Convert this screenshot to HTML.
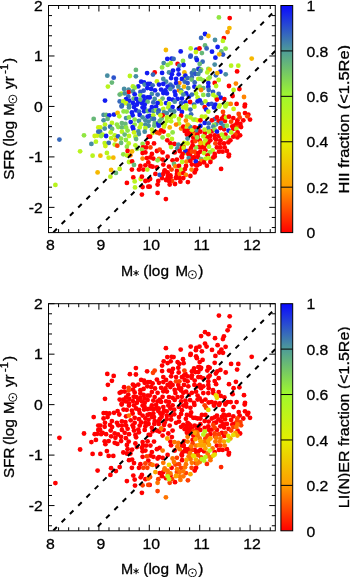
<!DOCTYPE html>
<html><head><meta charset="utf-8"><style>html,body{margin:0;padding:0;background:#fff;width:350px;height:577px;overflow:hidden}svg{display:block} svg{will-change:transform}</style></head>
<body><svg width="350" height="577" viewBox="0 0 350 577">
<rect width="350" height="577" fill="#fff"/>
<clipPath id="clip0"><rect x="48.5" y="5.5" width="226.8" height="227.1"/></clipPath>
<g clip-path="url(#clip0)">
<circle cx="124.1" cy="89.0" r="2.4" fill="#478da2"/>
<circle cx="143.6" cy="90.7" r="2.4" fill="#2c53cc"/>
<circle cx="196.0" cy="93.5" r="2.4" fill="#b8f41d"/>
<circle cx="129.3" cy="100.7" r="2.4" fill="#131cf2"/>
<circle cx="161.0" cy="103.7" r="2.4" fill="#ccf210"/>
<circle cx="178.8" cy="108.7" r="2.4" fill="#131cf2"/>
<circle cx="186.4" cy="108.4" r="2.4" fill="#b8f41d"/>
<circle cx="126.7" cy="111.6" r="2.4" fill="#90e642"/>
<circle cx="144.1" cy="111.3" r="2.4" fill="#131cf2"/>
<circle cx="174.2" cy="111.5" r="2.4" fill="#478da2"/>
<circle cx="166.8" cy="113.1" r="2.4" fill="#478da2"/>
<circle cx="174.3" cy="116.1" r="2.4" fill="#b8f41d"/>
<circle cx="161.6" cy="118.6" r="2.4" fill="#67b878"/>
<circle cx="148.5" cy="121.6" r="2.4" fill="#478da2"/>
<circle cx="166.7" cy="121.0" r="2.4" fill="#b8f41d"/>
<circle cx="171.1" cy="121.3" r="2.4" fill="#b8f41d"/>
<circle cx="148.6" cy="125.8" r="2.4" fill="#478da2"/>
<circle cx="154.3" cy="125.7" r="2.4" fill="#67b878"/>
<circle cx="158.7" cy="125.7" r="2.4" fill="#131cf2"/>
<circle cx="163.6" cy="131.6" r="2.4" fill="#ff0000"/>
<circle cx="138.9" cy="134.1" r="2.4" fill="#478da2"/>
<circle cx="159.3" cy="133.3" r="2.4" fill="#ff3e00"/>
<circle cx="218.6" cy="121.1" r="2.4" fill="#ff0000"/>
<circle cx="225.0" cy="121.1" r="2.4" fill="#ff0000"/>
<circle cx="232.3" cy="126.3" r="2.4" fill="#ff0000"/>
<circle cx="234.9" cy="125.4" r="2.4" fill="#ff0000"/>
<circle cx="237.4" cy="126.3" r="2.4" fill="#ff3e00"/>
<circle cx="224.1" cy="129.3" r="2.4" fill="#ff0000"/>
<circle cx="211.7" cy="131.4" r="2.4" fill="#ff0000"/>
<circle cx="215.1" cy="138.3" r="2.4" fill="#ff0000"/>
<circle cx="237.4" cy="137.4" r="2.4" fill="#ff0000"/>
<circle cx="237.4" cy="120.3" r="2.4" fill="#ff0000"/>
<circle cx="223.7" cy="116.4" r="2.4" fill="#ff0000"/>
<circle cx="224.6" cy="137.4" r="2.4" fill="#ff0000"/>
<circle cx="190.3" cy="130.6" r="2.4" fill="#ff0000"/>
<circle cx="193.7" cy="132.7" r="2.4" fill="#ff0000"/>
<circle cx="196.3" cy="134.0" r="2.4" fill="#ff3e00"/>
<circle cx="204.9" cy="133.1" r="2.4" fill="#ff0000"/>
<circle cx="193.3" cy="137.4" r="2.4" fill="#ff0000"/>
<circle cx="207.4" cy="137.4" r="2.4" fill="#ff0000"/>
<circle cx="208.3" cy="142.6" r="2.4" fill="#ff0000"/>
<circle cx="185.1" cy="152.9" r="2.4" fill="#b8f41d"/>
<circle cx="196.3" cy="155.0" r="2.4" fill="#ff3e00"/>
<circle cx="181.7" cy="156.3" r="2.4" fill="#ff0000"/>
<circle cx="190.0" cy="155.0" r="2.4" fill="#ff0000"/>
<circle cx="194.0" cy="158.0" r="2.4" fill="#ff0000"/>
<circle cx="198.0" cy="157.0" r="2.4" fill="#ff0000"/>
<circle cx="190.0" cy="160.0" r="2.4" fill="#ff0000"/>
<circle cx="196.0" cy="165.0" r="2.4" fill="#ff0000"/>
<circle cx="200.0" cy="163.0" r="2.4" fill="#ff0000"/>
<circle cx="186.0" cy="166.0" r="2.4" fill="#ff0000"/>
<circle cx="183.5" cy="147.0" r="2.4" fill="#ff0000"/>
<circle cx="188.5" cy="151.0" r="2.4" fill="#ff0000"/>
<circle cx="199.0" cy="147.0" r="2.4" fill="#ff0000"/>
<circle cx="204.0" cy="147.0" r="2.4" fill="#ff0000"/>
<circle cx="164.5" cy="171.5" r="2.4" fill="#ff0000"/>
<circle cx="168.0" cy="176.0" r="2.4" fill="#ff0000"/>
<circle cx="170.5" cy="177.5" r="2.4" fill="#ff0000"/>
<circle cx="166.0" cy="180.0" r="2.4" fill="#ff0000"/>
<circle cx="176.0" cy="178.0" r="2.4" fill="#ff0000"/>
<circle cx="177.0" cy="171.0" r="2.4" fill="#ff0000"/>
<circle cx="175.0" cy="184.0" r="2.4" fill="#ff0000"/>
<circle cx="162.0" cy="178.0" r="2.4" fill="#ff0000"/>
<circle cx="165.9" cy="50.0" r="2.4" fill="#f6b800"/>
<circle cx="180.7" cy="51.4" r="2.4" fill="#131cf2"/>
<circle cx="190.7" cy="48.4" r="2.4" fill="#b8f41d"/>
<circle cx="196.4" cy="49.6" r="2.4" fill="#131cf2"/>
<circle cx="199.5" cy="48.5" r="2.4" fill="#ff0000"/>
<circle cx="195.9" cy="52.0" r="2.4" fill="#ccf210"/>
<circle cx="190.7" cy="55.7" r="2.4" fill="#2c53cc"/>
<circle cx="218.9" cy="17.4" r="2.4" fill="#90e642"/>
<circle cx="229.7" cy="18.1" r="2.4" fill="#ff0000"/>
<circle cx="229.4" cy="28.1" r="2.4" fill="#f6b800"/>
<circle cx="227.6" cy="32.1" r="2.4" fill="#ff8400"/>
<circle cx="205.0" cy="34.0" r="2.4" fill="#131cf2"/>
<circle cx="208.4" cy="36.0" r="2.4" fill="#f6b800"/>
<circle cx="201.1" cy="37.9" r="2.4" fill="#3669bc"/>
<circle cx="215.0" cy="40.0" r="2.4" fill="#478da2"/>
<circle cx="223.9" cy="38.1" r="2.4" fill="#ff0000"/>
<circle cx="222.9" cy="40.9" r="2.4" fill="#b8f41d"/>
<circle cx="205.0" cy="45.4" r="2.4" fill="#67b878"/>
<circle cx="206.6" cy="48.4" r="2.4" fill="#3669bc"/>
<circle cx="217.6" cy="47.0" r="2.4" fill="#131cf2"/>
<circle cx="225.6" cy="48.6" r="2.4" fill="#90e642"/>
<circle cx="201.9" cy="53.1" r="2.4" fill="#67b878"/>
<circle cx="212.0" cy="51.7" r="2.4" fill="#131cf2"/>
<circle cx="221.4" cy="51.4" r="2.4" fill="#67b878"/>
<circle cx="223.0" cy="54.6" r="2.4" fill="#2c53cc"/>
<circle cx="219.3" cy="54.3" r="2.4" fill="#f6b800"/>
<circle cx="135.9" cy="69.9" r="2.4" fill="#67b878"/>
<circle cx="107.3" cy="75.7" r="2.4" fill="#478da2"/>
<circle cx="113.7" cy="77.7" r="2.4" fill="#2c53cc"/>
<circle cx="129.9" cy="76.0" r="2.4" fill="#b8f41d"/>
<circle cx="135.9" cy="76.3" r="2.4" fill="#478da2"/>
<circle cx="147.1" cy="73.1" r="2.4" fill="#131cf2"/>
<circle cx="111.9" cy="82.6" r="2.4" fill="#67b878"/>
<circle cx="107.9" cy="86.6" r="2.4" fill="#b8f41d"/>
<circle cx="141.1" cy="81.7" r="2.4" fill="#131cf2"/>
<circle cx="144.0" cy="82.4" r="2.4" fill="#131cf2"/>
<circle cx="144.7" cy="84.6" r="2.4" fill="#478da2"/>
<circle cx="148.0" cy="83.9" r="2.4" fill="#131cf2"/>
<circle cx="138.3" cy="86.4" r="2.4" fill="#131cf2"/>
<circle cx="132.9" cy="86.4" r="2.4" fill="#b8f41d"/>
<circle cx="134.7" cy="87.7" r="2.4" fill="#90e642"/>
<circle cx="147.3" cy="88.1" r="2.4" fill="#131cf2"/>
<circle cx="128.6" cy="89.6" r="2.4" fill="#478da2"/>
<circle cx="128.7" cy="92.1" r="2.4" fill="#ff0000"/>
<circle cx="121.4" cy="93.6" r="2.4" fill="#b8f41d"/>
<circle cx="119.7" cy="94.6" r="2.4" fill="#67b878"/>
<circle cx="124.7" cy="93.4" r="2.4" fill="#478da2"/>
<circle cx="133.0" cy="91.4" r="2.4" fill="#478da2"/>
<circle cx="134.7" cy="94.3" r="2.4" fill="#131cf2"/>
<circle cx="140.4" cy="92.0" r="2.4" fill="#2c53cc"/>
<circle cx="140.4" cy="95.3" r="2.4" fill="#90e642"/>
<circle cx="128.3" cy="96.4" r="2.4" fill="#3669bc"/>
<circle cx="126.1" cy="99.1" r="2.4" fill="#131cf2"/>
<circle cx="143.6" cy="96.7" r="2.4" fill="#131cf2"/>
<circle cx="147.6" cy="97.4" r="2.4" fill="#131cf2"/>
<circle cx="105.0" cy="100.6" r="2.4" fill="#131cf2"/>
<circle cx="119.7" cy="101.4" r="2.4" fill="#3669bc"/>
<circle cx="123.3" cy="101.4" r="2.4" fill="#b8f41d"/>
<circle cx="125.9" cy="103.1" r="2.4" fill="#ccf210"/>
<circle cx="133.7" cy="98.6" r="2.4" fill="#67b878"/>
<circle cx="136.4" cy="98.9" r="2.4" fill="#131cf2"/>
<circle cx="133.0" cy="102.9" r="2.4" fill="#131cf2"/>
<circle cx="138.3" cy="101.7" r="2.4" fill="#131cf2"/>
<circle cx="141.9" cy="103.1" r="2.4" fill="#131cf2"/>
<circle cx="140.4" cy="99.6" r="2.4" fill="#67b878"/>
<circle cx="144.7" cy="100.3" r="2.4" fill="#131cf2"/>
<circle cx="147.6" cy="101.7" r="2.4" fill="#67b878"/>
<circle cx="121.9" cy="105.3" r="2.4" fill="#3669bc"/>
<circle cx="129.0" cy="105.3" r="2.4" fill="#478da2"/>
<circle cx="136.9" cy="104.6" r="2.4" fill="#131cf2"/>
<circle cx="144.7" cy="104.6" r="2.4" fill="#131cf2"/>
<circle cx="179.0" cy="90.3" r="2.4" fill="#ff8400"/>
<circle cx="179.4" cy="83.1" r="2.4" fill="#ff8400"/>
<circle cx="167.3" cy="58.9" r="2.4" fill="#131cf2"/>
<circle cx="171.6" cy="58.6" r="2.4" fill="#131cf2"/>
<circle cx="173.6" cy="58.9" r="2.4" fill="#3669bc"/>
<circle cx="190.4" cy="56.7" r="2.4" fill="#2c53cc"/>
<circle cx="196.1" cy="58.1" r="2.4" fill="#3669bc"/>
<circle cx="196.9" cy="60.0" r="2.4" fill="#131cf2"/>
<circle cx="163.7" cy="63.1" r="2.4" fill="#478da2"/>
<circle cx="170.7" cy="63.1" r="2.4" fill="#b8f41d"/>
<circle cx="167.6" cy="64.9" r="2.4" fill="#90e642"/>
<circle cx="162.1" cy="67.4" r="2.4" fill="#90e642"/>
<circle cx="177.6" cy="63.9" r="2.4" fill="#ff0000"/>
<circle cx="179.3" cy="65.7" r="2.4" fill="#478da2"/>
<circle cx="183.0" cy="61.0" r="2.4" fill="#90e642"/>
<circle cx="183.6" cy="65.0" r="2.4" fill="#131cf2"/>
<circle cx="154.7" cy="72.4" r="2.4" fill="#ff0000"/>
<circle cx="153.0" cy="74.6" r="2.4" fill="#3669bc"/>
<circle cx="162.1" cy="72.9" r="2.4" fill="#131cf2"/>
<circle cx="173.0" cy="70.6" r="2.4" fill="#131cf2"/>
<circle cx="178.3" cy="69.6" r="2.4" fill="#131cf2"/>
<circle cx="169.0" cy="72.4" r="2.4" fill="#478da2"/>
<circle cx="171.9" cy="74.3" r="2.4" fill="#131cf2"/>
<circle cx="178.7" cy="74.3" r="2.4" fill="#131cf2"/>
<circle cx="184.4" cy="72.4" r="2.4" fill="#f6b800"/>
<circle cx="184.0" cy="77.4" r="2.4" fill="#ccf210"/>
<circle cx="185.4" cy="75.7" r="2.4" fill="#131cf2"/>
<circle cx="191.9" cy="73.1" r="2.4" fill="#3669bc"/>
<circle cx="194.0" cy="70.3" r="2.4" fill="#478da2"/>
<circle cx="195.4" cy="73.9" r="2.4" fill="#2c53cc"/>
<circle cx="198.3" cy="68.9" r="2.4" fill="#2c53cc"/>
<circle cx="198.3" cy="73.9" r="2.4" fill="#478da2"/>
<circle cx="163.3" cy="78.9" r="2.4" fill="#478da2"/>
<circle cx="171.1" cy="78.1" r="2.4" fill="#131cf2"/>
<circle cx="176.1" cy="78.9" r="2.4" fill="#131cf2"/>
<circle cx="181.9" cy="78.9" r="2.4" fill="#131cf2"/>
<circle cx="187.6" cy="78.1" r="2.4" fill="#3669bc"/>
<circle cx="191.9" cy="77.1" r="2.4" fill="#3669bc"/>
<circle cx="191.6" cy="79.6" r="2.4" fill="#67b878"/>
<circle cx="156.9" cy="81.4" r="2.4" fill="#ccf210"/>
<circle cx="166.1" cy="81.7" r="2.4" fill="#478da2"/>
<circle cx="176.1" cy="83.1" r="2.4" fill="#131cf2"/>
<circle cx="184.7" cy="81.7" r="2.4" fill="#3669bc"/>
<circle cx="187.6" cy="83.1" r="2.4" fill="#2c53cc"/>
<circle cx="194.7" cy="82.4" r="2.4" fill="#3669bc"/>
<circle cx="198.3" cy="78.9" r="2.4" fill="#b8f41d"/>
<circle cx="150.1" cy="83.9" r="2.4" fill="#131cf2"/>
<circle cx="152.6" cy="85.3" r="2.4" fill="#3669bc"/>
<circle cx="159.0" cy="84.6" r="2.4" fill="#131cf2"/>
<circle cx="163.3" cy="83.9" r="2.4" fill="#131cf2"/>
<circle cx="170.4" cy="84.6" r="2.4" fill="#3669bc"/>
<circle cx="167.6" cy="86.7" r="2.4" fill="#131cf2"/>
<circle cx="172.6" cy="86.7" r="2.4" fill="#2c53cc"/>
<circle cx="178.3" cy="86.7" r="2.4" fill="#478da2"/>
<circle cx="184.0" cy="86.7" r="2.4" fill="#f6b800"/>
<circle cx="188.3" cy="88.1" r="2.4" fill="#478da2"/>
<circle cx="194.4" cy="86.7" r="2.4" fill="#131cf2"/>
<circle cx="197.6" cy="88.1" r="2.4" fill="#b8f41d"/>
<circle cx="151.1" cy="88.9" r="2.4" fill="#131cf2"/>
<circle cx="155.0" cy="90.3" r="2.4" fill="#131cf2"/>
<circle cx="161.1" cy="89.6" r="2.4" fill="#131cf2"/>
<circle cx="165.4" cy="90.3" r="2.4" fill="#131cf2"/>
<circle cx="170.4" cy="88.9" r="2.4" fill="#478da2"/>
<circle cx="181.1" cy="90.3" r="2.4" fill="#478da2"/>
<circle cx="181.1" cy="92.4" r="2.4" fill="#b8f41d"/>
<circle cx="174.7" cy="91.7" r="2.4" fill="#131cf2"/>
<circle cx="163.3" cy="93.1" r="2.4" fill="#131cf2"/>
<circle cx="166.9" cy="93.4" r="2.4" fill="#131cf2"/>
<circle cx="151.9" cy="93.9" r="2.4" fill="#478da2"/>
<circle cx="157.6" cy="94.6" r="2.4" fill="#3669bc"/>
<circle cx="175.4" cy="94.9" r="2.4" fill="#131cf2"/>
<circle cx="186.1" cy="93.4" r="2.4" fill="#131cf2"/>
<circle cx="183.3" cy="94.6" r="2.4" fill="#478da2"/>
<circle cx="189.0" cy="96.7" r="2.4" fill="#131cf2"/>
<circle cx="191.9" cy="94.6" r="2.4" fill="#3669bc"/>
<circle cx="197.6" cy="97.4" r="2.4" fill="#b8f41d"/>
<circle cx="149.7" cy="97.4" r="2.4" fill="#131cf2"/>
<circle cx="154.7" cy="98.9" r="2.4" fill="#478da2"/>
<circle cx="162.6" cy="98.6" r="2.4" fill="#67b878"/>
<circle cx="169.0" cy="98.9" r="2.4" fill="#131cf2"/>
<circle cx="172.6" cy="99.6" r="2.4" fill="#131cf2"/>
<circle cx="177.6" cy="98.9" r="2.4" fill="#131cf2"/>
<circle cx="181.9" cy="98.6" r="2.4" fill="#131cf2"/>
<circle cx="190.1" cy="102.0" r="2.4" fill="#ff0000"/>
<circle cx="159.7" cy="101.4" r="2.4" fill="#ccf210"/>
<circle cx="153.3" cy="102.4" r="2.4" fill="#3669bc"/>
<circle cx="157.6" cy="103.1" r="2.4" fill="#131cf2"/>
<circle cx="166.1" cy="103.1" r="2.4" fill="#131cf2"/>
<circle cx="174.7" cy="101.7" r="2.4" fill="#478da2"/>
<circle cx="181.1" cy="103.1" r="2.4" fill="#2c53cc"/>
<circle cx="185.4" cy="102.4" r="2.4" fill="#131cf2"/>
<circle cx="169.0" cy="103.9" r="2.4" fill="#b8f41d"/>
<circle cx="197.6" cy="101.4" r="2.4" fill="#131cf2"/>
<circle cx="194.0" cy="104.6" r="2.4" fill="#3669bc"/>
<circle cx="186.1" cy="105.3" r="2.4" fill="#b8f41d"/>
<circle cx="215.4" cy="57.7" r="2.4" fill="#131cf2"/>
<circle cx="202.6" cy="61.7" r="2.4" fill="#3669bc"/>
<circle cx="199.7" cy="63.9" r="2.4" fill="#67b878"/>
<circle cx="214.7" cy="64.6" r="2.4" fill="#478da2"/>
<circle cx="231.1" cy="65.7" r="2.4" fill="#b8f41d"/>
<circle cx="238.3" cy="65.7" r="2.4" fill="#b8f41d"/>
<circle cx="237.1" cy="71.4" r="2.4" fill="#ff0000"/>
<circle cx="208.3" cy="68.9" r="2.4" fill="#90e642"/>
<circle cx="199.4" cy="68.9" r="2.4" fill="#131cf2"/>
<circle cx="209.7" cy="69.6" r="2.4" fill="#f6b800"/>
<circle cx="207.3" cy="72.4" r="2.4" fill="#b8f41d"/>
<circle cx="220.4" cy="71.7" r="2.4" fill="#131cf2"/>
<circle cx="225.7" cy="74.3" r="2.4" fill="#478da2"/>
<circle cx="215.9" cy="75.3" r="2.4" fill="#3669bc"/>
<circle cx="217.3" cy="73.1" r="2.4" fill="#f6b800"/>
<circle cx="201.1" cy="69.6" r="2.4" fill="#90e642"/>
<circle cx="200.4" cy="71.0" r="2.4" fill="#478da2"/>
<circle cx="200.4" cy="78.9" r="2.4" fill="#90e642"/>
<circle cx="203.3" cy="80.3" r="2.4" fill="#90e642"/>
<circle cx="208.3" cy="78.9" r="2.4" fill="#b8f41d"/>
<circle cx="209.7" cy="77.4" r="2.4" fill="#90e642"/>
<circle cx="218.7" cy="80.0" r="2.4" fill="#b8f41d"/>
<circle cx="208.3" cy="83.1" r="2.4" fill="#131cf2"/>
<circle cx="214.7" cy="82.9" r="2.4" fill="#ff0000"/>
<circle cx="216.1" cy="86.0" r="2.4" fill="#b8f41d"/>
<circle cx="235.9" cy="83.6" r="2.4" fill="#ff8400"/>
<circle cx="229.0" cy="86.0" r="2.4" fill="#ff0000"/>
<circle cx="239.4" cy="89.1" r="2.4" fill="#ff0000"/>
<circle cx="233.6" cy="90.0" r="2.4" fill="#b8f41d"/>
<circle cx="199.7" cy="86.7" r="2.4" fill="#90e642"/>
<circle cx="203.3" cy="88.1" r="2.4" fill="#67b878"/>
<circle cx="201.1" cy="90.0" r="2.4" fill="#ff8400"/>
<circle cx="208.3" cy="86.7" r="2.4" fill="#131cf2"/>
<circle cx="208.7" cy="90.0" r="2.4" fill="#3669bc"/>
<circle cx="213.0" cy="92.0" r="2.4" fill="#2c53cc"/>
<circle cx="203.3" cy="94.9" r="2.4" fill="#90e642"/>
<circle cx="208.3" cy="94.9" r="2.4" fill="#478da2"/>
<circle cx="213.3" cy="94.9" r="2.4" fill="#b8f41d"/>
<circle cx="218.7" cy="93.9" r="2.4" fill="#3669bc"/>
<circle cx="232.6" cy="96.0" r="2.4" fill="#ff0000"/>
<circle cx="244.0" cy="97.0" r="2.4" fill="#ff8400"/>
<circle cx="215.9" cy="97.1" r="2.4" fill="#b8f41d"/>
<circle cx="220.7" cy="97.7" r="2.4" fill="#131cf2"/>
<circle cx="224.4" cy="99.1" r="2.4" fill="#ff0000"/>
<circle cx="216.9" cy="99.6" r="2.4" fill="#ff0000"/>
<circle cx="201.9" cy="103.1" r="2.4" fill="#3669bc"/>
<circle cx="199.7" cy="100.3" r="2.4" fill="#131cf2"/>
<circle cx="205.4" cy="101.4" r="2.4" fill="#b8f41d"/>
<circle cx="208.7" cy="104.3" r="2.4" fill="#131cf2"/>
<circle cx="211.6" cy="103.9" r="2.4" fill="#2c53cc"/>
<circle cx="215.4" cy="104.6" r="2.4" fill="#131cf2"/>
<circle cx="227.6" cy="103.9" r="2.4" fill="#b8f41d"/>
<circle cx="225.4" cy="105.3" r="2.4" fill="#90e642"/>
<circle cx="230.7" cy="103.9" r="2.4" fill="#ff8400"/>
<circle cx="236.6" cy="103.9" r="2.4" fill="#ff0000"/>
<circle cx="245.0" cy="104.6" r="2.4" fill="#ff0000"/>
<circle cx="219.7" cy="105.3" r="2.4" fill="#ccf210"/>
<circle cx="251.7" cy="58.6" r="2.4" fill="#f6b800"/>
<circle cx="93.7" cy="118.9" r="2.4" fill="#67b878"/>
<circle cx="59.4" cy="139.6" r="2.4" fill="#3669bc"/>
<circle cx="84.0" cy="135.3" r="2.4" fill="#90e642"/>
<circle cx="94.7" cy="136.0" r="2.4" fill="#ccf210"/>
<circle cx="97.3" cy="135.6" r="2.4" fill="#ccf210"/>
<circle cx="95.9" cy="141.7" r="2.4" fill="#b8f41d"/>
<circle cx="91.4" cy="143.9" r="2.4" fill="#478da2"/>
<circle cx="80.1" cy="151.3" r="2.4" fill="#b8f41d"/>
<circle cx="98.3" cy="127.4" r="2.4" fill="#ccf210"/>
<circle cx="98.3" cy="131.7" r="2.4" fill="#3669bc"/>
<circle cx="92.6" cy="155.7" r="2.4" fill="#b8f41d"/>
<circle cx="115.4" cy="139.6" r="2.4" fill="#f6b800"/>
<circle cx="121.6" cy="106.4" r="2.4" fill="#3669bc"/>
<circle cx="129.0" cy="107.4" r="2.4" fill="#478da2"/>
<circle cx="134.0" cy="107.1" r="2.4" fill="#131cf2"/>
<circle cx="142.6" cy="107.4" r="2.4" fill="#131cf2"/>
<circle cx="144.4" cy="108.1" r="2.4" fill="#131cf2"/>
<circle cx="147.6" cy="111.0" r="2.4" fill="#67b878"/>
<circle cx="123.6" cy="111.4" r="2.4" fill="#90e642"/>
<circle cx="131.9" cy="112.4" r="2.4" fill="#131cf2"/>
<circle cx="136.1" cy="110.3" r="2.4" fill="#131cf2"/>
<circle cx="139.0" cy="111.7" r="2.4" fill="#3669bc"/>
<circle cx="103.6" cy="114.9" r="2.4" fill="#478da2"/>
<circle cx="106.1" cy="114.9" r="2.4" fill="#67b878"/>
<circle cx="109.3" cy="115.3" r="2.4" fill="#131cf2"/>
<circle cx="114.0" cy="114.6" r="2.4" fill="#131cf2"/>
<circle cx="117.6" cy="112.9" r="2.4" fill="#f6b800"/>
<circle cx="119.3" cy="116.3" r="2.4" fill="#b8f41d"/>
<circle cx="132.6" cy="115.3" r="2.4" fill="#131cf2"/>
<circle cx="139.7" cy="114.9" r="2.4" fill="#131cf2"/>
<circle cx="142.6" cy="117.4" r="2.4" fill="#478da2"/>
<circle cx="147.6" cy="116.7" r="2.4" fill="#131cf2"/>
<circle cx="103.6" cy="120.3" r="2.4" fill="#478da2"/>
<circle cx="107.6" cy="118.9" r="2.4" fill="#67b878"/>
<circle cx="126.1" cy="118.1" r="2.4" fill="#478da2"/>
<circle cx="129.0" cy="117.4" r="2.4" fill="#90e642"/>
<circle cx="134.7" cy="119.6" r="2.4" fill="#90e642"/>
<circle cx="139.0" cy="121.0" r="2.4" fill="#478da2"/>
<circle cx="145.4" cy="120.3" r="2.4" fill="#478da2"/>
<circle cx="105.0" cy="124.6" r="2.4" fill="#b8f41d"/>
<circle cx="111.9" cy="122.9" r="2.4" fill="#b8f41d"/>
<circle cx="116.9" cy="124.6" r="2.4" fill="#90e642"/>
<circle cx="121.9" cy="123.1" r="2.4" fill="#67b878"/>
<circle cx="125.4" cy="123.9" r="2.4" fill="#67b878"/>
<circle cx="130.7" cy="122.1" r="2.4" fill="#131cf2"/>
<circle cx="134.7" cy="124.6" r="2.4" fill="#90e642"/>
<circle cx="141.1" cy="124.3" r="2.4" fill="#b8f41d"/>
<circle cx="145.4" cy="124.6" r="2.4" fill="#478da2"/>
<circle cx="100.4" cy="127.4" r="2.4" fill="#ccf210"/>
<circle cx="104.7" cy="128.6" r="2.4" fill="#478da2"/>
<circle cx="110.1" cy="126.7" r="2.4" fill="#3669bc"/>
<circle cx="112.1" cy="128.9" r="2.4" fill="#67b878"/>
<circle cx="118.3" cy="127.1" r="2.4" fill="#90e642"/>
<circle cx="121.9" cy="127.4" r="2.4" fill="#67b878"/>
<circle cx="132.6" cy="127.1" r="2.4" fill="#131cf2"/>
<circle cx="133.3" cy="128.9" r="2.4" fill="#131cf2"/>
<circle cx="126.1" cy="127.4" r="2.4" fill="#90e642"/>
<circle cx="139.7" cy="127.4" r="2.4" fill="#b8f41d"/>
<circle cx="145.4" cy="128.1" r="2.4" fill="#b8f41d"/>
<circle cx="100.1" cy="131.7" r="2.4" fill="#3669bc"/>
<circle cx="110.7" cy="132.4" r="2.4" fill="#b8f41d"/>
<circle cx="121.9" cy="131.7" r="2.4" fill="#b8f41d"/>
<circle cx="127.6" cy="130.6" r="2.4" fill="#90e642"/>
<circle cx="138.3" cy="131.4" r="2.4" fill="#478da2"/>
<circle cx="134.0" cy="132.4" r="2.4" fill="#ccf210"/>
<circle cx="144.7" cy="131.7" r="2.4" fill="#478da2"/>
<circle cx="102.6" cy="134.6" r="2.4" fill="#b8f41d"/>
<circle cx="101.1" cy="136.0" r="2.4" fill="#90e642"/>
<circle cx="106.1" cy="136.0" r="2.4" fill="#131cf2"/>
<circle cx="111.1" cy="138.1" r="2.4" fill="#b8f41d"/>
<circle cx="114.7" cy="135.3" r="2.4" fill="#b8f41d"/>
<circle cx="118.0" cy="136.3" r="2.4" fill="#2c53cc"/>
<circle cx="124.7" cy="134.6" r="2.4" fill="#67b878"/>
<circle cx="129.0" cy="136.0" r="2.4" fill="#b8f41d"/>
<circle cx="135.4" cy="136.7" r="2.4" fill="#b8f41d"/>
<circle cx="136.1" cy="139.1" r="2.4" fill="#67b878"/>
<circle cx="121.1" cy="138.6" r="2.4" fill="#90e642"/>
<circle cx="125.9" cy="140.0" r="2.4" fill="#90e642"/>
<circle cx="104.7" cy="143.1" r="2.4" fill="#b8f41d"/>
<circle cx="108.7" cy="142.9" r="2.4" fill="#3669bc"/>
<circle cx="114.7" cy="144.6" r="2.4" fill="#b8f41d"/>
<circle cx="117.3" cy="145.7" r="2.4" fill="#ff3e00"/>
<circle cx="121.1" cy="142.9" r="2.4" fill="#67b878"/>
<circle cx="128.7" cy="143.4" r="2.4" fill="#b8f41d"/>
<circle cx="135.4" cy="145.3" r="2.4" fill="#b8f41d"/>
<circle cx="142.6" cy="143.9" r="2.4" fill="#90e642"/>
<circle cx="147.6" cy="143.1" r="2.4" fill="#ff0000"/>
<circle cx="148.7" cy="136.7" r="2.4" fill="#ff0000"/>
<circle cx="105.4" cy="146.0" r="2.4" fill="#ccf210"/>
<circle cx="126.9" cy="146.7" r="2.4" fill="#90e642"/>
<circle cx="136.9" cy="148.9" r="2.4" fill="#90e642"/>
<circle cx="143.0" cy="147.4" r="2.4" fill="#ff0000"/>
<circle cx="146.1" cy="147.4" r="2.4" fill="#ff0000"/>
<circle cx="127.6" cy="151.0" r="2.4" fill="#ff0000"/>
<circle cx="132.1" cy="151.4" r="2.4" fill="#f6b800"/>
<circle cx="141.9" cy="149.6" r="2.4" fill="#90e642"/>
<circle cx="145.4" cy="152.4" r="2.4" fill="#ff0000"/>
<circle cx="142.6" cy="153.1" r="2.4" fill="#ff0000"/>
<circle cx="106.9" cy="152.9" r="2.4" fill="#b8f41d"/>
<circle cx="123.3" cy="154.3" r="2.4" fill="#90e642"/>
<circle cx="126.9" cy="155.3" r="2.4" fill="#b8f41d"/>
<circle cx="130.4" cy="155.3" r="2.4" fill="#ff8400"/>
<circle cx="100.4" cy="155.7" r="2.4" fill="#f6b800"/>
<circle cx="151.9" cy="107.1" r="2.4" fill="#131cf2"/>
<circle cx="156.1" cy="106.7" r="2.4" fill="#131cf2"/>
<circle cx="150.4" cy="110.3" r="2.4" fill="#131cf2"/>
<circle cx="153.3" cy="111.0" r="2.4" fill="#478da2"/>
<circle cx="156.1" cy="110.3" r="2.4" fill="#90e642"/>
<circle cx="158.7" cy="110.3" r="2.4" fill="#2c53cc"/>
<circle cx="158.3" cy="112.9" r="2.4" fill="#3669bc"/>
<circle cx="163.3" cy="108.9" r="2.4" fill="#b8f41d"/>
<circle cx="164.0" cy="112.4" r="2.4" fill="#478da2"/>
<circle cx="168.3" cy="107.4" r="2.4" fill="#b8f41d"/>
<circle cx="172.6" cy="107.1" r="2.4" fill="#131cf2"/>
<circle cx="170.4" cy="110.3" r="2.4" fill="#478da2"/>
<circle cx="183.3" cy="107.4" r="2.4" fill="#b8f41d"/>
<circle cx="181.9" cy="112.0" r="2.4" fill="#131cf2"/>
<circle cx="190.4" cy="109.6" r="2.4" fill="#3669bc"/>
<circle cx="194.4" cy="106.7" r="2.4" fill="#b8f41d"/>
<circle cx="149.7" cy="116.0" r="2.4" fill="#131cf2"/>
<circle cx="153.3" cy="115.3" r="2.4" fill="#b8f41d"/>
<circle cx="162.6" cy="115.3" r="2.4" fill="#ff0000"/>
<circle cx="160.4" cy="115.3" r="2.4" fill="#ccf210"/>
<circle cx="151.9" cy="118.9" r="2.4" fill="#478da2"/>
<circle cx="154.0" cy="118.9" r="2.4" fill="#3669bc"/>
<circle cx="154.7" cy="122.9" r="2.4" fill="#67b878"/>
<circle cx="158.3" cy="123.4" r="2.4" fill="#131cf2"/>
<circle cx="159.7" cy="121.0" r="2.4" fill="#67b878"/>
<circle cx="166.9" cy="117.4" r="2.4" fill="#b8f41d"/>
<circle cx="171.1" cy="117.4" r="2.4" fill="#b8f41d"/>
<circle cx="181.1" cy="115.7" r="2.4" fill="#ff0000"/>
<circle cx="179.0" cy="118.9" r="2.4" fill="#b8f41d"/>
<circle cx="191.1" cy="114.3" r="2.4" fill="#3669bc"/>
<circle cx="186.9" cy="116.7" r="2.4" fill="#90e642"/>
<circle cx="190.4" cy="117.4" r="2.4" fill="#b8f41d"/>
<circle cx="193.3" cy="119.6" r="2.4" fill="#b8f41d"/>
<circle cx="195.4" cy="119.6" r="2.4" fill="#90e642"/>
<circle cx="197.6" cy="120.3" r="2.4" fill="#e4ee00"/>
<circle cx="185.9" cy="120.6" r="2.4" fill="#ff8400"/>
<circle cx="179.0" cy="123.4" r="2.4" fill="#b8f41d"/>
<circle cx="176.1" cy="124.6" r="2.4" fill="#ff8400"/>
<circle cx="164.7" cy="124.3" r="2.4" fill="#b8f41d"/>
<circle cx="164.0" cy="126.7" r="2.4" fill="#ccf210"/>
<circle cx="169.7" cy="127.4" r="2.4" fill="#f6b800"/>
<circle cx="181.1" cy="128.6" r="2.4" fill="#ff8400"/>
<circle cx="183.3" cy="126.7" r="2.4" fill="#ff0000"/>
<circle cx="186.9" cy="127.4" r="2.4" fill="#b8f41d"/>
<circle cx="189.0" cy="126.0" r="2.4" fill="#ccf210"/>
<circle cx="190.4" cy="127.1" r="2.4" fill="#478da2"/>
<circle cx="194.7" cy="127.4" r="2.4" fill="#ff0000"/>
<circle cx="187.6" cy="124.6" r="2.4" fill="#f6b800"/>
<circle cx="198.3" cy="128.1" r="2.4" fill="#ff0000"/>
<circle cx="151.9" cy="129.6" r="2.4" fill="#b8f41d"/>
<circle cx="152.6" cy="133.1" r="2.4" fill="#ccf210"/>
<circle cx="161.1" cy="130.3" r="2.4" fill="#ff0000"/>
<circle cx="156.9" cy="132.4" r="2.4" fill="#ff3e00"/>
<circle cx="172.6" cy="132.4" r="2.4" fill="#90e642"/>
<circle cx="184.7" cy="131.0" r="2.4" fill="#ff0000"/>
<circle cx="187.6" cy="131.0" r="2.4" fill="#ff0000"/>
<circle cx="191.9" cy="130.3" r="2.4" fill="#ccf210"/>
<circle cx="196.9" cy="131.0" r="2.4" fill="#478da2"/>
<circle cx="150.1" cy="136.7" r="2.4" fill="#ff0000"/>
<circle cx="168.3" cy="135.3" r="2.4" fill="#b8f41d"/>
<circle cx="162.6" cy="137.4" r="2.4" fill="#90e642"/>
<circle cx="171.9" cy="138.9" r="2.4" fill="#b8f41d"/>
<circle cx="186.9" cy="134.6" r="2.4" fill="#ff0000"/>
<circle cx="189.7" cy="133.9" r="2.4" fill="#ff0000"/>
<circle cx="194.7" cy="134.6" r="2.4" fill="#ff8400"/>
<circle cx="197.3" cy="134.6" r="2.4" fill="#ff0000"/>
<circle cx="154.0" cy="143.4" r="2.4" fill="#ff0000"/>
<circle cx="167.3" cy="140.3" r="2.4" fill="#ff0000"/>
<circle cx="170.4" cy="143.4" r="2.4" fill="#ff0000"/>
<circle cx="174.4" cy="143.9" r="2.4" fill="#ff0000"/>
<circle cx="178.3" cy="144.6" r="2.4" fill="#478da2"/>
<circle cx="187.6" cy="138.6" r="2.4" fill="#478da2"/>
<circle cx="184.0" cy="142.9" r="2.4" fill="#ccf210"/>
<circle cx="187.6" cy="143.4" r="2.4" fill="#ccf210"/>
<circle cx="192.6" cy="141.7" r="2.4" fill="#ff0000"/>
<circle cx="195.4" cy="141.0" r="2.4" fill="#ff3e00"/>
<circle cx="197.6" cy="137.1" r="2.4" fill="#ff0000"/>
<circle cx="150.4" cy="147.4" r="2.4" fill="#ff3e00"/>
<circle cx="171.1" cy="147.1" r="2.4" fill="#b8f41d"/>
<circle cx="177.3" cy="148.3" r="2.4" fill="#478da2"/>
<circle cx="181.9" cy="147.4" r="2.4" fill="#ff0000"/>
<circle cx="191.1" cy="148.1" r="2.4" fill="#ff0000"/>
<circle cx="196.1" cy="147.4" r="2.4" fill="#90e642"/>
<circle cx="192.6" cy="145.3" r="2.4" fill="#ff0000"/>
<circle cx="156.9" cy="151.0" r="2.4" fill="#ff0000"/>
<circle cx="159.7" cy="149.6" r="2.4" fill="#ff3e00"/>
<circle cx="162.6" cy="152.4" r="2.4" fill="#ff0000"/>
<circle cx="151.9" cy="153.9" r="2.4" fill="#ff0000"/>
<circle cx="174.7" cy="152.4" r="2.4" fill="#ff0000"/>
<circle cx="179.7" cy="151.0" r="2.4" fill="#ff0000"/>
<circle cx="185.4" cy="151.0" r="2.4" fill="#131cf2"/>
<circle cx="183.6" cy="147.7" r="2.4" fill="#ccf210"/>
<circle cx="182.6" cy="153.9" r="2.4" fill="#ff0000"/>
<circle cx="188.3" cy="153.9" r="2.4" fill="#ff0000"/>
<circle cx="191.9" cy="151.7" r="2.4" fill="#ff3e00"/>
<circle cx="194.7" cy="151.7" r="2.4" fill="#ff3e00"/>
<circle cx="198.3" cy="153.1" r="2.4" fill="#ff0000"/>
<circle cx="204.7" cy="107.1" r="2.4" fill="#ff0000"/>
<circle cx="206.1" cy="109.6" r="2.4" fill="#131cf2"/>
<circle cx="208.3" cy="111.7" r="2.4" fill="#b8f41d"/>
<circle cx="214.0" cy="107.4" r="2.4" fill="#131cf2"/>
<circle cx="219.0" cy="106.7" r="2.4" fill="#b8f41d"/>
<circle cx="225.4" cy="106.4" r="2.4" fill="#b8f41d"/>
<circle cx="233.6" cy="108.9" r="2.4" fill="#ccf210"/>
<circle cx="223.0" cy="112.0" r="2.4" fill="#ff3e00"/>
<circle cx="244.7" cy="106.4" r="2.4" fill="#ff0000"/>
<circle cx="245.0" cy="113.1" r="2.4" fill="#ff0000"/>
<circle cx="238.7" cy="113.9" r="2.4" fill="#ff3e00"/>
<circle cx="248.3" cy="114.6" r="2.4" fill="#ff0000"/>
<circle cx="201.9" cy="116.7" r="2.4" fill="#b8f41d"/>
<circle cx="205.4" cy="116.7" r="2.4" fill="#ccf210"/>
<circle cx="200.4" cy="120.3" r="2.4" fill="#ff0000"/>
<circle cx="214.7" cy="119.1" r="2.4" fill="#3669bc"/>
<circle cx="211.9" cy="120.3" r="2.4" fill="#ff0000"/>
<circle cx="216.9" cy="117.4" r="2.4" fill="#ff0000"/>
<circle cx="221.9" cy="118.6" r="2.4" fill="#ff0000"/>
<circle cx="226.1" cy="117.4" r="2.4" fill="#b8f41d"/>
<circle cx="229.0" cy="116.7" r="2.4" fill="#ff0000"/>
<circle cx="233.3" cy="118.1" r="2.4" fill="#ff0000"/>
<circle cx="239.7" cy="117.4" r="2.4" fill="#ff3e00"/>
<circle cx="243.3" cy="120.3" r="2.4" fill="#ff0000"/>
<circle cx="204.7" cy="122.9" r="2.4" fill="#131cf2"/>
<circle cx="208.7" cy="123.4" r="2.4" fill="#3669bc"/>
<circle cx="200.4" cy="126.0" r="2.4" fill="#131cf2"/>
<circle cx="216.1" cy="124.3" r="2.4" fill="#478da2"/>
<circle cx="214.0" cy="124.9" r="2.4" fill="#90e642"/>
<circle cx="221.1" cy="123.1" r="2.4" fill="#3669bc"/>
<circle cx="223.3" cy="126.0" r="2.4" fill="#478da2"/>
<circle cx="226.9" cy="125.7" r="2.4" fill="#90e642"/>
<circle cx="231.1" cy="121.7" r="2.4" fill="#ff3e00"/>
<circle cx="236.9" cy="123.1" r="2.4" fill="#ff0000"/>
<circle cx="240.4" cy="123.9" r="2.4" fill="#ff0000"/>
<circle cx="208.3" cy="128.1" r="2.4" fill="#3669bc"/>
<circle cx="213.3" cy="126.7" r="2.4" fill="#478da2"/>
<circle cx="204.7" cy="129.6" r="2.4" fill="#b8f41d"/>
<circle cx="209.0" cy="131.7" r="2.4" fill="#b8f41d"/>
<circle cx="214.7" cy="129.6" r="2.4" fill="#90e642"/>
<circle cx="220.4" cy="128.1" r="2.4" fill="#ff0000"/>
<circle cx="216.9" cy="131.7" r="2.4" fill="#131cf2"/>
<circle cx="233.3" cy="128.9" r="2.4" fill="#ff0000"/>
<circle cx="236.4" cy="128.9" r="2.4" fill="#b8f41d"/>
<circle cx="241.1" cy="127.1" r="2.4" fill="#ff0000"/>
<circle cx="237.6" cy="132.4" r="2.4" fill="#ff0000"/>
<circle cx="200.4" cy="131.7" r="2.4" fill="#ff0000"/>
<circle cx="203.3" cy="136.3" r="2.4" fill="#b8f41d"/>
<circle cx="210.4" cy="136.0" r="2.4" fill="#ff0000"/>
<circle cx="214.7" cy="135.3" r="2.4" fill="#ff0000"/>
<circle cx="219.0" cy="136.0" r="2.4" fill="#ff0000"/>
<circle cx="225.4" cy="134.6" r="2.4" fill="#ff0000"/>
<circle cx="224.0" cy="137.7" r="2.4" fill="#b8f41d"/>
<circle cx="228.3" cy="137.7" r="2.4" fill="#90e642"/>
<circle cx="235.4" cy="134.6" r="2.4" fill="#ff3e00"/>
<circle cx="233.3" cy="136.7" r="2.4" fill="#ff0000"/>
<circle cx="240.1" cy="135.3" r="2.4" fill="#ff0000"/>
<circle cx="199.7" cy="140.3" r="2.4" fill="#ff0000"/>
<circle cx="205.4" cy="140.3" r="2.4" fill="#b8f41d"/>
<circle cx="210.4" cy="140.3" r="2.4" fill="#ff0000"/>
<circle cx="216.1" cy="139.6" r="2.4" fill="#ff0000"/>
<circle cx="220.4" cy="140.3" r="2.4" fill="#ff0000"/>
<circle cx="230.4" cy="140.3" r="2.4" fill="#ff0000"/>
<circle cx="201.1" cy="143.4" r="2.4" fill="#ff0000"/>
<circle cx="204.7" cy="143.4" r="2.4" fill="#ccf210"/>
<circle cx="207.6" cy="144.6" r="2.4" fill="#ff0000"/>
<circle cx="215.4" cy="143.4" r="2.4" fill="#ff3e00"/>
<circle cx="219.7" cy="143.4" r="2.4" fill="#ff0000"/>
<circle cx="224.0" cy="143.4" r="2.4" fill="#ff0000"/>
<circle cx="228.3" cy="142.4" r="2.4" fill="#ff0000"/>
<circle cx="209.0" cy="146.7" r="2.4" fill="#b8f41d"/>
<circle cx="201.9" cy="147.4" r="2.4" fill="#ff0000"/>
<circle cx="216.9" cy="147.4" r="2.4" fill="#ff0000"/>
<circle cx="220.4" cy="147.4" r="2.4" fill="#ff0000"/>
<circle cx="224.7" cy="147.4" r="2.4" fill="#ff0000"/>
<circle cx="212.6" cy="150.3" r="2.4" fill="#b8f41d"/>
<circle cx="205.4" cy="150.3" r="2.4" fill="#ff0000"/>
<circle cx="200.4" cy="151.7" r="2.4" fill="#ff0000"/>
<circle cx="209.7" cy="152.4" r="2.4" fill="#90e642"/>
<circle cx="219.0" cy="151.7" r="2.4" fill="#ff0000"/>
<circle cx="222.6" cy="151.7" r="2.4" fill="#ff0000"/>
<circle cx="226.9" cy="151.0" r="2.4" fill="#ff0000"/>
<circle cx="204.0" cy="153.1" r="2.4" fill="#b8f41d"/>
<circle cx="214.7" cy="153.9" r="2.4" fill="#ff0000"/>
<circle cx="229.0" cy="154.6" r="2.4" fill="#ff0000"/>
<circle cx="207.6" cy="155.3" r="2.4" fill="#ff0000"/>
<circle cx="250.0" cy="119.6" r="2.4" fill="#ff0000"/>
<circle cx="247.4" cy="116.3" r="2.4" fill="#ff3e00"/>
<circle cx="97.6" cy="172.4" r="2.4" fill="#f6b800"/>
<circle cx="55.4" cy="184.9" r="2.4" fill="#b8f41d"/>
<circle cx="108.7" cy="157.7" r="2.4" fill="#ccf210"/>
<circle cx="113.3" cy="157.7" r="2.4" fill="#f6b800"/>
<circle cx="111.1" cy="170.0" r="2.4" fill="#f6b800"/>
<circle cx="115.9" cy="172.9" r="2.4" fill="#67b878"/>
<circle cx="110.4" cy="176.7" r="2.4" fill="#b8f41d"/>
<circle cx="119.7" cy="168.9" r="2.4" fill="#b8f41d"/>
<circle cx="129.0" cy="162.0" r="2.4" fill="#b8f41d"/>
<circle cx="132.1" cy="161.4" r="2.4" fill="#ff0000"/>
<circle cx="134.0" cy="164.9" r="2.4" fill="#67b878"/>
<circle cx="131.9" cy="169.6" r="2.4" fill="#ff0000"/>
<circle cx="142.6" cy="158.6" r="2.4" fill="#ff8400"/>
<circle cx="146.9" cy="158.1" r="2.4" fill="#ff0000"/>
<circle cx="140.4" cy="166.0" r="2.4" fill="#ff0000"/>
<circle cx="145.4" cy="165.3" r="2.4" fill="#ff0000"/>
<circle cx="139.0" cy="169.6" r="2.4" fill="#ff0000"/>
<circle cx="143.3" cy="169.6" r="2.4" fill="#ff0000"/>
<circle cx="147.3" cy="169.6" r="2.4" fill="#b8f41d"/>
<circle cx="148.3" cy="162.4" r="2.4" fill="#ff0000"/>
<circle cx="133.3" cy="177.4" r="2.4" fill="#ff0000"/>
<circle cx="126.9" cy="182.9" r="2.4" fill="#ff0000"/>
<circle cx="134.7" cy="181.4" r="2.4" fill="#b8f41d"/>
<circle cx="140.7" cy="179.1" r="2.4" fill="#ccf210"/>
<circle cx="141.9" cy="176.7" r="2.4" fill="#ff0000"/>
<circle cx="145.4" cy="181.0" r="2.4" fill="#ff0000"/>
<circle cx="148.3" cy="180.3" r="2.4" fill="#ff0000"/>
<circle cx="135.0" cy="187.4" r="2.4" fill="#b8f41d"/>
<circle cx="142.6" cy="187.1" r="2.4" fill="#ff0000"/>
<circle cx="148.3" cy="186.7" r="2.4" fill="#ff0000"/>
<circle cx="141.9" cy="194.6" r="2.4" fill="#ff0000"/>
<circle cx="150.4" cy="157.4" r="2.4" fill="#ff0000"/>
<circle cx="153.3" cy="158.6" r="2.4" fill="#ff0000"/>
<circle cx="159.0" cy="158.9" r="2.4" fill="#ff8400"/>
<circle cx="157.6" cy="160.3" r="2.4" fill="#90e642"/>
<circle cx="162.6" cy="159.6" r="2.4" fill="#ff0000"/>
<circle cx="167.6" cy="156.7" r="2.4" fill="#ff0000"/>
<circle cx="172.6" cy="160.3" r="2.4" fill="#ff0000"/>
<circle cx="176.9" cy="159.6" r="2.4" fill="#ff0000"/>
<circle cx="181.9" cy="157.4" r="2.4" fill="#ff0000"/>
<circle cx="188.7" cy="158.1" r="2.4" fill="#478da2"/>
<circle cx="193.3" cy="157.4" r="2.4" fill="#ff0000"/>
<circle cx="195.9" cy="161.4" r="2.4" fill="#131cf2"/>
<circle cx="174.0" cy="163.9" r="2.4" fill="#67b878"/>
<circle cx="182.1" cy="162.0" r="2.4" fill="#b8f41d"/>
<circle cx="186.4" cy="161.7" r="2.4" fill="#ff8400"/>
<circle cx="190.4" cy="161.0" r="2.4" fill="#ff0000"/>
<circle cx="191.9" cy="164.6" r="2.4" fill="#ff0000"/>
<circle cx="197.3" cy="165.3" r="2.4" fill="#ff0000"/>
<circle cx="150.4" cy="166.0" r="2.4" fill="#ff0000"/>
<circle cx="152.6" cy="166.7" r="2.4" fill="#ff0000"/>
<circle cx="156.9" cy="167.4" r="2.4" fill="#ff0000"/>
<circle cx="163.3" cy="164.6" r="2.4" fill="#ff0000"/>
<circle cx="169.0" cy="166.7" r="2.4" fill="#ff0000"/>
<circle cx="175.4" cy="166.3" r="2.4" fill="#ff8400"/>
<circle cx="179.0" cy="166.0" r="2.4" fill="#ff0000"/>
<circle cx="171.6" cy="169.6" r="2.4" fill="#ff3e00"/>
<circle cx="181.1" cy="169.6" r="2.4" fill="#b8f41d"/>
<circle cx="185.0" cy="169.1" r="2.4" fill="#ff0000"/>
<circle cx="191.6" cy="169.6" r="2.4" fill="#ff8400"/>
<circle cx="196.1" cy="169.6" r="2.4" fill="#ff0000"/>
<circle cx="164.7" cy="170.3" r="2.4" fill="#ff0000"/>
<circle cx="155.4" cy="173.9" r="2.4" fill="#ff0000"/>
<circle cx="159.7" cy="174.9" r="2.4" fill="#2c53cc"/>
<circle cx="163.3" cy="173.9" r="2.4" fill="#ff0000"/>
<circle cx="167.6" cy="172.4" r="2.4" fill="#ff0000"/>
<circle cx="170.4" cy="175.3" r="2.4" fill="#ff0000"/>
<circle cx="176.9" cy="173.9" r="2.4" fill="#ff0000"/>
<circle cx="179.7" cy="173.9" r="2.4" fill="#ff8400"/>
<circle cx="183.3" cy="173.1" r="2.4" fill="#ff0000"/>
<circle cx="185.9" cy="174.9" r="2.4" fill="#ff8400"/>
<circle cx="190.4" cy="176.0" r="2.4" fill="#ff0000"/>
<circle cx="194.7" cy="172.4" r="2.4" fill="#ff0000"/>
<circle cx="150.1" cy="178.9" r="2.4" fill="#ff0000"/>
<circle cx="167.6" cy="178.1" r="2.4" fill="#ff0000"/>
<circle cx="176.1" cy="177.4" r="2.4" fill="#ff0000"/>
<circle cx="179.7" cy="178.1" r="2.4" fill="#ff0000"/>
<circle cx="183.3" cy="178.1" r="2.4" fill="#ff0000"/>
<circle cx="172.1" cy="181.0" r="2.4" fill="#ff3e00"/>
<circle cx="169.0" cy="181.0" r="2.4" fill="#ff0000"/>
<circle cx="158.3" cy="181.0" r="2.4" fill="#ff0000"/>
<circle cx="180.4" cy="181.7" r="2.4" fill="#ff0000"/>
<circle cx="187.9" cy="182.1" r="2.4" fill="#ff0000"/>
<circle cx="157.6" cy="184.6" r="2.4" fill="#ff0000"/>
<circle cx="169.7" cy="184.6" r="2.4" fill="#ff0000"/>
<circle cx="149.7" cy="186.7" r="2.4" fill="#ff0000"/>
<circle cx="157.6" cy="192.9" r="2.4" fill="#ff0000"/>
<circle cx="165.9" cy="199.1" r="2.4" fill="#ff0000"/>
<circle cx="201.1" cy="159.1" r="2.4" fill="#67b878"/>
<circle cx="205.4" cy="158.9" r="2.4" fill="#b8f41d"/>
<circle cx="208.3" cy="158.1" r="2.4" fill="#ccf210"/>
<circle cx="211.1" cy="158.9" r="2.4" fill="#b8f41d"/>
<circle cx="213.3" cy="157.4" r="2.4" fill="#ff0000"/>
<circle cx="214.7" cy="156.4" r="2.4" fill="#ff0000"/>
<circle cx="201.9" cy="161.0" r="2.4" fill="#ff8400"/>
<circle cx="204.0" cy="162.4" r="2.4" fill="#ff0000"/>
<circle cx="210.4" cy="162.0" r="2.4" fill="#ff0000"/>
<circle cx="206.9" cy="165.7" r="2.4" fill="#ff0000"/>
<circle cx="199.7" cy="163.9" r="2.4" fill="#ff0000"/>
<circle cx="221.1" cy="168.9" r="2.4" fill="#ff0000"/>
<circle cx="228.7" cy="156.3" r="2.4" fill="#ff0000"/>
<circle cx="197.1" cy="137.4" r="2.4" fill="#90e642"/>
<circle cx="200.6" cy="143.0" r="2.4" fill="#f6b800"/>
<circle cx="228.6" cy="130.7" r="2.4" fill="#131cf2"/>
<circle cx="231.1" cy="132.4" r="2.4" fill="#b8f41d"/>
<circle cx="221.9" cy="134.6" r="2.4" fill="#b8f41d"/>
<line x1="48.10" y1="237.60" x2="285.20" y2="0.50" stroke="#000" stroke-width="2" stroke-dasharray="5 6.71" stroke-dashoffset="4.3"/>
<line x1="88.60" y1="237.60" x2="325.70" y2="0.50" stroke="#000" stroke-width="2" stroke-dasharray="5 6.71" stroke-dashoffset="-1.3"/>
</g>
<rect x="48.5" y="5.5" width="226.8" height="227.1" fill="none" stroke="#000" stroke-width="1"/>
<path d="M48.50 232.60v-6M48.50 5.50v6M58.58 232.60v-3.5M58.58 5.50v3.5M68.66 232.60v-3.5M68.66 5.50v3.5M78.74 232.60v-3.5M78.74 5.50v3.5M88.82 232.60v-3.5M88.82 5.50v3.5M98.90 232.60v-6M98.90 5.50v6M108.98 232.60v-3.5M108.98 5.50v3.5M119.06 232.60v-3.5M119.06 5.50v3.5M129.14 232.60v-3.5M129.14 5.50v3.5M139.22 232.60v-3.5M139.22 5.50v3.5M149.30 232.60v-6M149.30 5.50v6M159.38 232.60v-3.5M159.38 5.50v3.5M169.46 232.60v-3.5M169.46 5.50v3.5M179.54 232.60v-3.5M179.54 5.50v3.5M189.62 232.60v-3.5M189.62 5.50v3.5M199.70 232.60v-6M199.70 5.50v6M209.78 232.60v-3.5M209.78 5.50v3.5M219.86 232.60v-3.5M219.86 5.50v3.5M229.94 232.60v-3.5M229.94 5.50v3.5M240.02 232.60v-3.5M240.02 5.50v3.5M250.10 232.60v-6M250.10 5.50v6M260.18 232.60v-3.5M260.18 5.50v3.5M270.26 232.60v-3.5M270.26 5.50v3.5M48.50 227.55h3.5M275.30 227.55h-3.5M48.50 217.46h3.5M275.30 217.46h-3.5M48.50 207.37h6M275.30 207.37h-6M48.50 197.27h3.5M275.30 197.27h-3.5M48.50 187.18h3.5M275.30 187.18h-3.5M48.50 177.09h3.5M275.30 177.09h-3.5M48.50 166.99h3.5M275.30 166.99h-3.5M48.50 156.90h6M275.30 156.90h-6M48.50 146.81h3.5M275.30 146.81h-3.5M48.50 136.71h3.5M275.30 136.71h-3.5M48.50 126.62h3.5M275.30 126.62h-3.5M48.50 116.53h3.5M275.30 116.53h-3.5M48.50 106.43h6M275.30 106.43h-6M48.50 96.34h3.5M275.30 96.34h-3.5M48.50 86.25h3.5M275.30 86.25h-3.5M48.50 76.15h3.5M275.30 76.15h-3.5M48.50 66.06h3.5M275.30 66.06h-3.5M48.50 55.97h6M275.30 55.97h-6M48.50 45.87h3.5M275.30 45.87h-3.5M48.50 35.78h3.5M275.30 35.78h-3.5M48.50 25.69h3.5M275.30 25.69h-3.5M48.50 15.59h3.5M275.30 15.59h-3.5M48.50 5.50h6M275.30 5.50h-6" stroke="#000" stroke-width="1" fill="none"/>
<text transform="translate(42.60,10.70) scale(1.12,1)" font-family="Liberation Sans, sans-serif" stroke="#000" stroke-width="0.3" font-size="14" text-anchor="end" >2</text>
<text transform="translate(42.60,61.17) scale(1.12,1)" font-family="Liberation Sans, sans-serif" stroke="#000" stroke-width="0.3" font-size="14" text-anchor="end" >1</text>
<text transform="translate(42.60,111.63) scale(1.12,1)" font-family="Liberation Sans, sans-serif" stroke="#000" stroke-width="0.3" font-size="14" text-anchor="end" >0</text>
<text transform="translate(42.60,162.10) scale(1.12,1)" font-family="Liberation Sans, sans-serif" stroke="#000" stroke-width="0.3" font-size="14" text-anchor="end" >-1</text>
<text transform="translate(42.60,212.57) scale(1.12,1)" font-family="Liberation Sans, sans-serif" stroke="#000" stroke-width="0.3" font-size="14" text-anchor="end" >-2</text>
<text transform="translate(50.50,250.40) scale(1.02,1)" font-family="Liberation Sans, sans-serif" stroke="#000" stroke-width="0.3" font-size="15.5" text-anchor="middle" >8</text>
<text transform="translate(100.90,250.40) scale(1.02,1)" font-family="Liberation Sans, sans-serif" stroke="#000" stroke-width="0.3" font-size="15.5" text-anchor="middle" >9</text>
<text transform="translate(151.30,250.40) scale(1.02,1)" font-family="Liberation Sans, sans-serif" stroke="#000" stroke-width="0.3" font-size="15.5" text-anchor="middle" >10</text>
<text transform="translate(201.70,250.40) scale(1.02,1)" font-family="Liberation Sans, sans-serif" stroke="#000" stroke-width="0.3" font-size="15.5" text-anchor="middle" >11</text>
<text transform="translate(252.10,250.40) scale(1.02,1)" font-family="Liberation Sans, sans-serif" stroke="#000" stroke-width="0.3" font-size="15.5" text-anchor="middle" >12</text>
<text transform="translate(120.90,275.80) scale(1.04,1)" font-family="Liberation Sans, sans-serif" stroke="#000" stroke-width="0.3" font-size="14" text-anchor="start" >M</text>
<line x1="136.10" y1="270.00" x2="136.10" y2="276.00" stroke="#000" stroke-width="1.0"/>
<line x1="133.50" y1="271.50" x2="138.70" y2="274.50" stroke="#000" stroke-width="1.0"/>
<line x1="138.70" y1="271.50" x2="133.50" y2="274.50" stroke="#000" stroke-width="1.0"/>
<text transform="translate(143.30,275.80) scale(1.1,1)" font-family="Liberation Sans, sans-serif" stroke="#000" stroke-width="0.3" font-size="14" text-anchor="start" >(log</text>
<text transform="translate(175.60,275.80) scale(1.08,1)" font-family="Liberation Sans, sans-serif" stroke="#000" stroke-width="0.3" font-size="14" text-anchor="start" >M</text>
<circle cx="192.40" cy="274.60" r="4.0" fill="none" stroke="#000" stroke-width="0.9"/>
<circle cx="192.40" cy="274.60" r="0.9" fill="#000"/>
<text transform="translate(198.20,275.80) scale(1.1,1)" font-family="Liberation Sans, sans-serif" stroke="#000" stroke-width="0.3" font-size="14" text-anchor="start" >)</text>
<g transform="translate(13.8,179.70) rotate(-90)">
<text transform="translate(0.00,0.00) scale(1.08,1)" font-family="Liberation Sans, sans-serif" stroke="#000" stroke-width="0.3" font-size="14" text-anchor="start" >SFR</text>
<text transform="translate(33.00,0.00) scale(1.1,1)" font-family="Liberation Sans, sans-serif" stroke="#000" stroke-width="0.3" font-size="14" text-anchor="start" >(log</text>
<text transform="translate(64.00,0.00) scale(1.08,1)" font-family="Liberation Sans, sans-serif" stroke="#000" stroke-width="0.3" font-size="14" text-anchor="start" >M</text>
<circle cx="80.50" cy="-1.00" r="4.0" fill="none" stroke="#000" stroke-width="0.9"/>
<circle cx="80.50" cy="-1.00" r="0.9" fill="#000"/>
<text transform="translate(90.80,0.00) scale(1.1,1)" font-family="Liberation Sans, sans-serif" stroke="#000" stroke-width="0.3" font-size="14" text-anchor="start" >yr</text>
<text transform="translate(106.00,-6.00) scale(1.1,1)" font-family="Liberation Sans, sans-serif" stroke="#000" stroke-width="0.3" font-size="10" text-anchor="start" >-1</text>
<text transform="translate(116.80,0.00) scale(1.1,1)" font-family="Liberation Sans, sans-serif" stroke="#000" stroke-width="0.3" font-size="14" text-anchor="start" >)</text>
</g>
<linearGradient id="g0_0" x1="0" y1="0" x2="0" y2="1"><stop offset="0" stop-color="#0a0aff"/><stop offset="1" stop-color="#4e9c98"/></linearGradient>
<rect x="280.9" y="5.50" width="11.800000000000011" height="45.42" fill="url(#g0_0)"/>
<linearGradient id="g0_1" x1="0" y1="0" x2="0" y2="1"><stop offset="0" stop-color="#4e9c98"/><stop offset="1" stop-color="#a0f82d"/></linearGradient>
<rect x="280.9" y="50.92" width="11.800000000000011" height="45.42" fill="url(#g0_1)"/>
<linearGradient id="g0_2" x1="0" y1="0" x2="0" y2="1"><stop offset="0" stop-color="#a0f82d"/><stop offset="1" stop-color="#e4ee00"/></linearGradient>
<rect x="280.9" y="96.34" width="11.800000000000011" height="45.42" fill="url(#g0_2)"/>
<linearGradient id="g0_3" x1="0" y1="0" x2="0" y2="1"><stop offset="0" stop-color="#e4ee00"/><stop offset="1" stop-color="#ff9b00"/></linearGradient>
<rect x="280.9" y="141.76" width="11.800000000000011" height="45.42" fill="url(#g0_3)"/>
<linearGradient id="g0_4" x1="0" y1="0" x2="0" y2="1"><stop offset="0" stop-color="#ff9b00"/><stop offset="1" stop-color="#ff0000"/></linearGradient>
<rect x="280.9" y="187.18" width="11.800000000000011" height="45.42" fill="url(#g0_4)"/>
<line x1="280.9" y1="50.92" x2="292.7" y2="50.92" stroke="#000" stroke-width="1"/>
<line x1="280.9" y1="96.34" x2="292.7" y2="96.34" stroke="#000" stroke-width="1"/>
<line x1="280.9" y1="141.76" x2="292.7" y2="141.76" stroke="#000" stroke-width="1"/>
<line x1="280.9" y1="187.18" x2="292.7" y2="187.18" stroke="#000" stroke-width="1"/>
<rect x="280.9" y="5.50" width="11.800000000000011" height="227.10" fill="none" stroke="#000" stroke-width="1"/>
<text transform="translate(306.50,11.20) scale(1.05,1)" font-family="Liberation Sans, sans-serif" stroke="#000" stroke-width="0.3" font-size="15" text-anchor="start" >1</text>
<text transform="translate(306.50,56.62) scale(1.05,1)" font-family="Liberation Sans, sans-serif" stroke="#000" stroke-width="0.3" font-size="15" text-anchor="start" >0.8</text>
<text transform="translate(306.50,102.04) scale(1.05,1)" font-family="Liberation Sans, sans-serif" stroke="#000" stroke-width="0.3" font-size="15" text-anchor="start" >0.6</text>
<text transform="translate(306.50,147.46) scale(1.05,1)" font-family="Liberation Sans, sans-serif" stroke="#000" stroke-width="0.3" font-size="15" text-anchor="start" >0.4</text>
<text transform="translate(306.50,192.88) scale(1.05,1)" font-family="Liberation Sans, sans-serif" stroke="#000" stroke-width="0.3" font-size="15" text-anchor="start" >0.2</text>
<text transform="translate(306.50,238.30) scale(1.05,1)" font-family="Liberation Sans, sans-serif" stroke="#000" stroke-width="0.3" font-size="15" text-anchor="start" >0</text>
<g transform="translate(348.5,119.15) rotate(-90)">
<text x="0" y="0" font-family="Liberation Sans, sans-serif" stroke="#000" stroke-width="0.3" font-size="14" text-anchor="middle" textLength="148.5" lengthAdjust="spacingAndGlyphs">HII fraction (&lt;1.5Re)</text>
</g>
<clipPath id="clip1"><rect x="48.5" y="303.7" width="226.8" height="227.09999999999997"/></clipPath>
<g clip-path="url(#clip1)">
<circle cx="124.1" cy="387.2" r="2.4" fill="#ff0000"/>
<circle cx="143.6" cy="388.9" r="2.4" fill="#ff0000"/>
<circle cx="196.0" cy="391.7" r="2.4" fill="#ff0000"/>
<circle cx="129.3" cy="398.9" r="2.4" fill="#ff0000"/>
<circle cx="161.0" cy="401.9" r="2.4" fill="#ff0000"/>
<circle cx="178.8" cy="406.9" r="2.4" fill="#ff0000"/>
<circle cx="186.4" cy="406.6" r="2.4" fill="#ff0000"/>
<circle cx="126.7" cy="409.8" r="2.4" fill="#ff0000"/>
<circle cx="144.1" cy="409.5" r="2.4" fill="#ff0000"/>
<circle cx="174.2" cy="409.7" r="2.4" fill="#ff0000"/>
<circle cx="166.8" cy="411.3" r="2.4" fill="#ff0000"/>
<circle cx="174.3" cy="414.3" r="2.4" fill="#ff0000"/>
<circle cx="161.6" cy="416.8" r="2.4" fill="#ff0000"/>
<circle cx="148.5" cy="419.8" r="2.4" fill="#ff0000"/>
<circle cx="166.7" cy="419.2" r="2.4" fill="#ff0000"/>
<circle cx="171.1" cy="419.5" r="2.4" fill="#ff0000"/>
<circle cx="148.6" cy="424.0" r="2.4" fill="#ff0000"/>
<circle cx="154.3" cy="423.9" r="2.4" fill="#ff0000"/>
<circle cx="158.7" cy="423.9" r="2.4" fill="#ff0000"/>
<circle cx="163.6" cy="429.8" r="2.4" fill="#ff0000"/>
<circle cx="138.9" cy="432.3" r="2.4" fill="#ff0000"/>
<circle cx="159.3" cy="431.5" r="2.4" fill="#ff0000"/>
<circle cx="218.6" cy="419.3" r="2.4" fill="#ff0000"/>
<circle cx="225.0" cy="419.3" r="2.4" fill="#ff0000"/>
<circle cx="232.3" cy="424.5" r="2.4" fill="#ff0000"/>
<circle cx="234.9" cy="423.6" r="2.4" fill="#ff0000"/>
<circle cx="224.1" cy="427.5" r="2.4" fill="#ff0000"/>
<circle cx="211.7" cy="429.6" r="2.4" fill="#ff0000"/>
<circle cx="223.7" cy="414.6" r="2.4" fill="#ff0000"/>
<circle cx="224.6" cy="435.6" r="2.4" fill="#ff0000"/>
<circle cx="190.3" cy="428.8" r="2.4" fill="#ff0000"/>
<circle cx="193.3" cy="435.6" r="2.4" fill="#ff0000"/>
<circle cx="185.1" cy="451.1" r="2.4" fill="#ff0000"/>
<circle cx="196.3" cy="453.2" r="2.4" fill="#ff0000"/>
<circle cx="181.7" cy="454.5" r="2.4" fill="#ff0000"/>
<circle cx="183.5" cy="445.2" r="2.4" fill="#ff0000"/>
<circle cx="188.5" cy="449.2" r="2.4" fill="#ff0000"/>
<circle cx="170.5" cy="475.7" r="2.4" fill="#ff0000"/>
<circle cx="166.0" cy="478.2" r="2.4" fill="#ff0000"/>
<circle cx="175.0" cy="482.2" r="2.4" fill="#ff0000"/>
<circle cx="162.0" cy="476.2" r="2.4" fill="#ff0000"/>
<circle cx="165.9" cy="348.2" r="2.4" fill="#ff0000"/>
<circle cx="180.7" cy="349.6" r="2.4" fill="#ff0000"/>
<circle cx="190.7" cy="346.6" r="2.4" fill="#ff0000"/>
<circle cx="196.4" cy="347.8" r="2.4" fill="#ff0000"/>
<circle cx="199.5" cy="346.7" r="2.4" fill="#ff0000"/>
<circle cx="195.9" cy="350.2" r="2.4" fill="#ff0000"/>
<circle cx="190.7" cy="353.9" r="2.4" fill="#ff0000"/>
<circle cx="218.9" cy="315.6" r="2.4" fill="#ff0000"/>
<circle cx="229.7" cy="316.3" r="2.4" fill="#ff0000"/>
<circle cx="229.4" cy="326.3" r="2.4" fill="#ff0000"/>
<circle cx="227.6" cy="330.3" r="2.4" fill="#ff0000"/>
<circle cx="205.0" cy="332.2" r="2.4" fill="#ff0000"/>
<circle cx="208.4" cy="334.2" r="2.4" fill="#ff0000"/>
<circle cx="201.1" cy="336.1" r="2.4" fill="#ff0000"/>
<circle cx="215.0" cy="338.2" r="2.4" fill="#ff0000"/>
<circle cx="223.9" cy="336.3" r="2.4" fill="#ff0000"/>
<circle cx="222.9" cy="339.1" r="2.4" fill="#ff0000"/>
<circle cx="205.0" cy="343.6" r="2.4" fill="#ff0000"/>
<circle cx="206.6" cy="346.6" r="2.4" fill="#ff0000"/>
<circle cx="217.6" cy="345.2" r="2.4" fill="#ff0000"/>
<circle cx="225.6" cy="346.8" r="2.4" fill="#ff0000"/>
<circle cx="201.9" cy="351.3" r="2.4" fill="#ff0000"/>
<circle cx="212.0" cy="349.9" r="2.4" fill="#ff0000"/>
<circle cx="221.4" cy="349.6" r="2.4" fill="#ff0000"/>
<circle cx="223.0" cy="352.8" r="2.4" fill="#ff0000"/>
<circle cx="219.3" cy="352.5" r="2.4" fill="#ff0000"/>
<circle cx="135.9" cy="368.1" r="2.4" fill="#ff0000"/>
<circle cx="107.3" cy="373.9" r="2.4" fill="#ff0000"/>
<circle cx="113.7" cy="375.9" r="2.4" fill="#ff0000"/>
<circle cx="129.9" cy="374.2" r="2.4" fill="#ff0000"/>
<circle cx="135.9" cy="374.5" r="2.4" fill="#ff0000"/>
<circle cx="147.1" cy="371.3" r="2.4" fill="#ff0000"/>
<circle cx="111.9" cy="380.8" r="2.4" fill="#ff0000"/>
<circle cx="107.9" cy="384.8" r="2.4" fill="#ff0000"/>
<circle cx="141.1" cy="379.9" r="2.4" fill="#ff0000"/>
<circle cx="144.0" cy="380.6" r="2.4" fill="#ff0000"/>
<circle cx="144.7" cy="382.8" r="2.4" fill="#ff0000"/>
<circle cx="148.0" cy="382.1" r="2.4" fill="#ff0000"/>
<circle cx="138.3" cy="384.6" r="2.4" fill="#ff0000"/>
<circle cx="132.9" cy="384.6" r="2.4" fill="#ff0000"/>
<circle cx="134.7" cy="385.9" r="2.4" fill="#ff0000"/>
<circle cx="147.3" cy="386.3" r="2.4" fill="#ff0000"/>
<circle cx="121.4" cy="391.8" r="2.4" fill="#ff0000"/>
<circle cx="119.7" cy="392.8" r="2.4" fill="#ff0000"/>
<circle cx="124.7" cy="391.6" r="2.4" fill="#ff0000"/>
<circle cx="133.0" cy="389.6" r="2.4" fill="#ff0000"/>
<circle cx="134.7" cy="392.5" r="2.4" fill="#ff0000"/>
<circle cx="140.4" cy="390.2" r="2.4" fill="#ff0000"/>
<circle cx="140.4" cy="393.5" r="2.4" fill="#ff0000"/>
<circle cx="128.3" cy="394.6" r="2.4" fill="#ff0000"/>
<circle cx="126.1" cy="397.3" r="2.4" fill="#ff0000"/>
<circle cx="143.6" cy="394.9" r="2.4" fill="#ff0000"/>
<circle cx="147.6" cy="395.6" r="2.4" fill="#ff0000"/>
<circle cx="105.0" cy="398.8" r="2.4" fill="#ff0000"/>
<circle cx="119.7" cy="399.6" r="2.4" fill="#ff0000"/>
<circle cx="123.3" cy="399.6" r="2.4" fill="#ff0000"/>
<circle cx="125.9" cy="401.3" r="2.4" fill="#ff0000"/>
<circle cx="133.7" cy="396.8" r="2.4" fill="#ff0000"/>
<circle cx="136.4" cy="397.1" r="2.4" fill="#ff0000"/>
<circle cx="133.0" cy="401.1" r="2.4" fill="#ff0000"/>
<circle cx="138.3" cy="399.9" r="2.4" fill="#ff0000"/>
<circle cx="141.9" cy="401.3" r="2.4" fill="#ff0000"/>
<circle cx="140.4" cy="397.8" r="2.4" fill="#ff0000"/>
<circle cx="144.7" cy="398.5" r="2.4" fill="#ff0000"/>
<circle cx="147.6" cy="399.9" r="2.4" fill="#ff0000"/>
<circle cx="121.9" cy="403.5" r="2.4" fill="#ff0000"/>
<circle cx="129.0" cy="403.5" r="2.4" fill="#ff0000"/>
<circle cx="136.9" cy="402.8" r="2.4" fill="#ff0000"/>
<circle cx="144.7" cy="402.8" r="2.4" fill="#ff0000"/>
<circle cx="179.0" cy="388.5" r="2.4" fill="#ff0000"/>
<circle cx="167.3" cy="357.1" r="2.4" fill="#ff0000"/>
<circle cx="171.6" cy="356.8" r="2.4" fill="#ff0000"/>
<circle cx="173.6" cy="357.1" r="2.4" fill="#ff0000"/>
<circle cx="190.4" cy="354.9" r="2.4" fill="#ff0000"/>
<circle cx="196.1" cy="356.3" r="2.4" fill="#ff0000"/>
<circle cx="196.9" cy="358.2" r="2.4" fill="#ff0000"/>
<circle cx="163.7" cy="361.3" r="2.4" fill="#ff0000"/>
<circle cx="170.7" cy="361.3" r="2.4" fill="#ff0000"/>
<circle cx="167.6" cy="363.1" r="2.4" fill="#ff0000"/>
<circle cx="162.1" cy="365.6" r="2.4" fill="#ff0000"/>
<circle cx="177.6" cy="362.1" r="2.4" fill="#ff0000"/>
<circle cx="179.3" cy="363.9" r="2.4" fill="#ff0000"/>
<circle cx="183.0" cy="359.2" r="2.4" fill="#ff0000"/>
<circle cx="183.6" cy="363.2" r="2.4" fill="#ff0000"/>
<circle cx="162.1" cy="371.1" r="2.4" fill="#ff0000"/>
<circle cx="173.0" cy="368.8" r="2.4" fill="#ff0000"/>
<circle cx="178.3" cy="367.8" r="2.4" fill="#ff0000"/>
<circle cx="169.0" cy="370.6" r="2.4" fill="#ff0000"/>
<circle cx="171.9" cy="372.5" r="2.4" fill="#ff0000"/>
<circle cx="178.7" cy="372.5" r="2.4" fill="#ff0000"/>
<circle cx="184.0" cy="375.6" r="2.4" fill="#ff0000"/>
<circle cx="185.4" cy="373.9" r="2.4" fill="#ff0000"/>
<circle cx="191.9" cy="371.3" r="2.4" fill="#ff0000"/>
<circle cx="194.0" cy="368.5" r="2.4" fill="#ff0000"/>
<circle cx="195.4" cy="372.1" r="2.4" fill="#ff0000"/>
<circle cx="198.3" cy="367.1" r="2.4" fill="#ff0000"/>
<circle cx="198.3" cy="372.1" r="2.4" fill="#ff0000"/>
<circle cx="163.3" cy="377.1" r="2.4" fill="#ff0000"/>
<circle cx="171.1" cy="376.3" r="2.4" fill="#ff0000"/>
<circle cx="176.1" cy="377.1" r="2.4" fill="#ff0000"/>
<circle cx="181.9" cy="377.1" r="2.4" fill="#ff0000"/>
<circle cx="187.6" cy="376.3" r="2.4" fill="#ff0000"/>
<circle cx="191.9" cy="375.3" r="2.4" fill="#ff0000"/>
<circle cx="191.6" cy="377.8" r="2.4" fill="#ff0000"/>
<circle cx="156.9" cy="379.6" r="2.4" fill="#ff0000"/>
<circle cx="166.1" cy="379.9" r="2.4" fill="#ff0000"/>
<circle cx="184.7" cy="379.9" r="2.4" fill="#ff0000"/>
<circle cx="187.6" cy="381.3" r="2.4" fill="#ff0000"/>
<circle cx="194.7" cy="380.6" r="2.4" fill="#ff0000"/>
<circle cx="198.3" cy="377.1" r="2.4" fill="#ff0000"/>
<circle cx="150.1" cy="382.1" r="2.4" fill="#ff0000"/>
<circle cx="152.6" cy="383.5" r="2.4" fill="#ff0000"/>
<circle cx="159.0" cy="382.8" r="2.4" fill="#ff0000"/>
<circle cx="163.3" cy="382.1" r="2.4" fill="#ff0000"/>
<circle cx="170.4" cy="382.8" r="2.4" fill="#ff0000"/>
<circle cx="167.6" cy="384.9" r="2.4" fill="#ff0000"/>
<circle cx="172.6" cy="384.9" r="2.4" fill="#ff0000"/>
<circle cx="178.3" cy="384.9" r="2.4" fill="#ff0000"/>
<circle cx="184.0" cy="384.9" r="2.4" fill="#ff0000"/>
<circle cx="188.3" cy="386.3" r="2.4" fill="#ff0000"/>
<circle cx="194.4" cy="384.9" r="2.4" fill="#ff0000"/>
<circle cx="197.6" cy="386.3" r="2.4" fill="#ff0000"/>
<circle cx="151.1" cy="387.1" r="2.4" fill="#ff0000"/>
<circle cx="155.0" cy="388.5" r="2.4" fill="#ff0000"/>
<circle cx="161.1" cy="387.8" r="2.4" fill="#ff0000"/>
<circle cx="165.4" cy="388.5" r="2.4" fill="#ff0000"/>
<circle cx="170.4" cy="387.1" r="2.4" fill="#ff0000"/>
<circle cx="181.1" cy="388.5" r="2.4" fill="#ff0000"/>
<circle cx="181.1" cy="390.6" r="2.4" fill="#ff0000"/>
<circle cx="174.7" cy="389.9" r="2.4" fill="#ff0000"/>
<circle cx="163.3" cy="391.3" r="2.4" fill="#ff0000"/>
<circle cx="166.9" cy="391.6" r="2.4" fill="#ff0000"/>
<circle cx="151.9" cy="392.1" r="2.4" fill="#ff0000"/>
<circle cx="157.6" cy="392.8" r="2.4" fill="#ff0000"/>
<circle cx="175.4" cy="393.1" r="2.4" fill="#ff0000"/>
<circle cx="186.1" cy="391.6" r="2.4" fill="#ff0000"/>
<circle cx="183.3" cy="392.8" r="2.4" fill="#ff0000"/>
<circle cx="189.0" cy="394.9" r="2.4" fill="#ff0000"/>
<circle cx="191.9" cy="392.8" r="2.4" fill="#ff0000"/>
<circle cx="197.6" cy="395.6" r="2.4" fill="#ff0000"/>
<circle cx="149.7" cy="395.6" r="2.4" fill="#ff0000"/>
<circle cx="154.7" cy="397.1" r="2.4" fill="#ff0000"/>
<circle cx="162.6" cy="396.8" r="2.4" fill="#ff0000"/>
<circle cx="169.0" cy="397.1" r="2.4" fill="#ff0000"/>
<circle cx="172.6" cy="397.8" r="2.4" fill="#ff0000"/>
<circle cx="177.6" cy="397.1" r="2.4" fill="#ff0000"/>
<circle cx="181.9" cy="396.8" r="2.4" fill="#ff0000"/>
<circle cx="190.1" cy="400.2" r="2.4" fill="#ff0000"/>
<circle cx="159.7" cy="399.6" r="2.4" fill="#ff0000"/>
<circle cx="153.3" cy="400.6" r="2.4" fill="#ff0000"/>
<circle cx="157.6" cy="401.3" r="2.4" fill="#ff0000"/>
<circle cx="166.1" cy="401.3" r="2.4" fill="#ff0000"/>
<circle cx="174.7" cy="399.9" r="2.4" fill="#ff0000"/>
<circle cx="181.1" cy="401.3" r="2.4" fill="#ff0000"/>
<circle cx="185.4" cy="400.6" r="2.4" fill="#ff0000"/>
<circle cx="169.0" cy="402.1" r="2.4" fill="#ff0000"/>
<circle cx="197.6" cy="399.6" r="2.4" fill="#ff0000"/>
<circle cx="194.0" cy="402.8" r="2.4" fill="#ff0000"/>
<circle cx="186.1" cy="403.5" r="2.4" fill="#ff0000"/>
<circle cx="215.4" cy="355.9" r="2.4" fill="#ff0000"/>
<circle cx="202.6" cy="359.9" r="2.4" fill="#ff0000"/>
<circle cx="199.7" cy="362.1" r="2.4" fill="#ff0000"/>
<circle cx="214.7" cy="362.8" r="2.4" fill="#ff0000"/>
<circle cx="231.1" cy="363.9" r="2.4" fill="#ff0000"/>
<circle cx="238.3" cy="363.9" r="2.4" fill="#ff0000"/>
<circle cx="237.1" cy="369.6" r="2.4" fill="#ff0000"/>
<circle cx="208.3" cy="367.1" r="2.4" fill="#ff0000"/>
<circle cx="199.4" cy="367.1" r="2.4" fill="#ff0000"/>
<circle cx="209.7" cy="367.8" r="2.4" fill="#ff0000"/>
<circle cx="207.3" cy="370.6" r="2.4" fill="#ff0000"/>
<circle cx="220.4" cy="369.9" r="2.4" fill="#ff0000"/>
<circle cx="225.7" cy="372.5" r="2.4" fill="#ff0000"/>
<circle cx="215.9" cy="373.5" r="2.4" fill="#ff0000"/>
<circle cx="217.3" cy="371.3" r="2.4" fill="#ff0000"/>
<circle cx="201.1" cy="367.8" r="2.4" fill="#ff0000"/>
<circle cx="200.4" cy="369.2" r="2.4" fill="#ff0000"/>
<circle cx="200.4" cy="377.1" r="2.4" fill="#ff0000"/>
<circle cx="203.3" cy="378.5" r="2.4" fill="#ff0000"/>
<circle cx="208.3" cy="377.1" r="2.4" fill="#ff0000"/>
<circle cx="209.7" cy="375.6" r="2.4" fill="#ff0000"/>
<circle cx="218.7" cy="378.2" r="2.4" fill="#ff0000"/>
<circle cx="208.3" cy="381.3" r="2.4" fill="#ff0000"/>
<circle cx="214.7" cy="381.1" r="2.4" fill="#ff0000"/>
<circle cx="216.1" cy="384.2" r="2.4" fill="#ff0000"/>
<circle cx="235.9" cy="381.8" r="2.4" fill="#ff0000"/>
<circle cx="229.0" cy="384.2" r="2.4" fill="#ff0000"/>
<circle cx="239.4" cy="387.3" r="2.4" fill="#ff0000"/>
<circle cx="233.6" cy="388.2" r="2.4" fill="#ff0000"/>
<circle cx="199.7" cy="384.9" r="2.4" fill="#ff0000"/>
<circle cx="203.3" cy="386.3" r="2.4" fill="#ff0000"/>
<circle cx="201.1" cy="388.2" r="2.4" fill="#ff0000"/>
<circle cx="208.3" cy="384.9" r="2.4" fill="#ff0000"/>
<circle cx="208.7" cy="388.2" r="2.4" fill="#ff0000"/>
<circle cx="213.0" cy="390.2" r="2.4" fill="#ff0000"/>
<circle cx="203.3" cy="393.1" r="2.4" fill="#ff0000"/>
<circle cx="208.3" cy="393.1" r="2.4" fill="#ff0000"/>
<circle cx="213.3" cy="393.1" r="2.4" fill="#ff0000"/>
<circle cx="218.7" cy="392.1" r="2.4" fill="#ff0000"/>
<circle cx="232.6" cy="394.2" r="2.4" fill="#ff0000"/>
<circle cx="244.0" cy="395.2" r="2.4" fill="#ff0000"/>
<circle cx="220.7" cy="395.9" r="2.4" fill="#ff0000"/>
<circle cx="224.4" cy="397.3" r="2.4" fill="#ff0000"/>
<circle cx="201.9" cy="401.3" r="2.4" fill="#ff0000"/>
<circle cx="199.7" cy="398.5" r="2.4" fill="#ff0000"/>
<circle cx="205.4" cy="399.6" r="2.4" fill="#ff0000"/>
<circle cx="208.7" cy="402.5" r="2.4" fill="#ff0000"/>
<circle cx="211.6" cy="402.1" r="2.4" fill="#ff0000"/>
<circle cx="215.4" cy="402.8" r="2.4" fill="#ff0000"/>
<circle cx="227.6" cy="402.1" r="2.4" fill="#ff0000"/>
<circle cx="225.4" cy="403.5" r="2.4" fill="#ff0000"/>
<circle cx="230.7" cy="402.1" r="2.4" fill="#ff0000"/>
<circle cx="236.6" cy="402.1" r="2.4" fill="#ff0000"/>
<circle cx="245.0" cy="402.8" r="2.4" fill="#ff0000"/>
<circle cx="219.7" cy="403.5" r="2.4" fill="#ff0000"/>
<circle cx="251.7" cy="356.8" r="2.4" fill="#ff0000"/>
<circle cx="93.7" cy="417.1" r="2.4" fill="#ff0000"/>
<circle cx="59.4" cy="437.8" r="2.4" fill="#ff0000"/>
<circle cx="84.0" cy="433.5" r="2.4" fill="#ff0000"/>
<circle cx="94.7" cy="434.2" r="2.4" fill="#ff0000"/>
<circle cx="97.3" cy="433.8" r="2.4" fill="#ff0000"/>
<circle cx="95.9" cy="439.9" r="2.4" fill="#ff0000"/>
<circle cx="91.4" cy="442.1" r="2.4" fill="#ff0000"/>
<circle cx="80.1" cy="449.5" r="2.4" fill="#ff0000"/>
<circle cx="98.3" cy="425.6" r="2.4" fill="#ff0000"/>
<circle cx="98.3" cy="429.9" r="2.4" fill="#ff0000"/>
<circle cx="92.6" cy="453.9" r="2.4" fill="#ff0000"/>
<circle cx="115.4" cy="437.8" r="2.4" fill="#ff0000"/>
<circle cx="121.6" cy="404.6" r="2.4" fill="#ff0000"/>
<circle cx="129.0" cy="405.6" r="2.4" fill="#ff0000"/>
<circle cx="134.0" cy="405.3" r="2.4" fill="#ff0000"/>
<circle cx="142.6" cy="405.6" r="2.4" fill="#ff0000"/>
<circle cx="144.4" cy="406.3" r="2.4" fill="#ff0000"/>
<circle cx="147.6" cy="409.2" r="2.4" fill="#ff0000"/>
<circle cx="123.6" cy="409.6" r="2.4" fill="#ff0000"/>
<circle cx="131.9" cy="410.6" r="2.4" fill="#ff0000"/>
<circle cx="136.1" cy="408.5" r="2.4" fill="#ff0000"/>
<circle cx="139.0" cy="409.9" r="2.4" fill="#ff0000"/>
<circle cx="103.6" cy="413.1" r="2.4" fill="#ff0000"/>
<circle cx="106.1" cy="413.1" r="2.4" fill="#ff0000"/>
<circle cx="109.3" cy="413.5" r="2.4" fill="#ff0000"/>
<circle cx="114.0" cy="412.8" r="2.4" fill="#ff0000"/>
<circle cx="117.6" cy="411.1" r="2.4" fill="#ff0000"/>
<circle cx="119.3" cy="414.5" r="2.4" fill="#ff0000"/>
<circle cx="132.6" cy="413.5" r="2.4" fill="#ff0000"/>
<circle cx="139.7" cy="413.1" r="2.4" fill="#ff0000"/>
<circle cx="142.6" cy="415.6" r="2.4" fill="#ff0000"/>
<circle cx="147.6" cy="414.9" r="2.4" fill="#ff0000"/>
<circle cx="103.6" cy="418.5" r="2.4" fill="#ff0000"/>
<circle cx="107.6" cy="417.1" r="2.4" fill="#ff0000"/>
<circle cx="126.1" cy="416.3" r="2.4" fill="#ff0000"/>
<circle cx="134.7" cy="417.8" r="2.4" fill="#ff0000"/>
<circle cx="139.0" cy="419.2" r="2.4" fill="#ff0000"/>
<circle cx="145.4" cy="418.5" r="2.4" fill="#ff0000"/>
<circle cx="105.0" cy="422.8" r="2.4" fill="#ff0000"/>
<circle cx="111.9" cy="421.1" r="2.4" fill="#ff0000"/>
<circle cx="116.9" cy="422.8" r="2.4" fill="#ff0000"/>
<circle cx="121.9" cy="421.3" r="2.4" fill="#ff0000"/>
<circle cx="125.4" cy="422.1" r="2.4" fill="#ff0000"/>
<circle cx="130.7" cy="420.3" r="2.4" fill="#ff0000"/>
<circle cx="134.7" cy="422.8" r="2.4" fill="#ff0000"/>
<circle cx="141.1" cy="422.5" r="2.4" fill="#ff0000"/>
<circle cx="145.4" cy="422.8" r="2.4" fill="#ff0000"/>
<circle cx="100.4" cy="425.6" r="2.4" fill="#ff0000"/>
<circle cx="104.7" cy="426.8" r="2.4" fill="#ff0000"/>
<circle cx="110.1" cy="424.9" r="2.4" fill="#ff0000"/>
<circle cx="112.1" cy="427.1" r="2.4" fill="#ff0000"/>
<circle cx="118.3" cy="425.3" r="2.4" fill="#ff0000"/>
<circle cx="121.9" cy="425.6" r="2.4" fill="#ff0000"/>
<circle cx="132.6" cy="425.3" r="2.4" fill="#ff0000"/>
<circle cx="133.3" cy="427.1" r="2.4" fill="#ff0000"/>
<circle cx="126.1" cy="425.6" r="2.4" fill="#ff0000"/>
<circle cx="139.7" cy="425.6" r="2.4" fill="#ff0000"/>
<circle cx="145.4" cy="426.3" r="2.4" fill="#ff0000"/>
<circle cx="100.1" cy="429.9" r="2.4" fill="#ff0000"/>
<circle cx="110.7" cy="430.6" r="2.4" fill="#ff0000"/>
<circle cx="121.9" cy="429.9" r="2.4" fill="#ff0000"/>
<circle cx="127.6" cy="428.8" r="2.4" fill="#ff0000"/>
<circle cx="138.3" cy="429.6" r="2.4" fill="#ff0000"/>
<circle cx="134.0" cy="430.6" r="2.4" fill="#ff0000"/>
<circle cx="144.7" cy="429.9" r="2.4" fill="#ff0000"/>
<circle cx="102.6" cy="432.8" r="2.4" fill="#ff0000"/>
<circle cx="101.1" cy="434.2" r="2.4" fill="#ff0000"/>
<circle cx="106.1" cy="434.2" r="2.4" fill="#ff0000"/>
<circle cx="111.1" cy="436.3" r="2.4" fill="#ff0000"/>
<circle cx="114.7" cy="433.5" r="2.4" fill="#ff0000"/>
<circle cx="118.0" cy="434.5" r="2.4" fill="#ff0000"/>
<circle cx="124.7" cy="432.8" r="2.4" fill="#ff0000"/>
<circle cx="129.0" cy="434.2" r="2.4" fill="#ff0000"/>
<circle cx="135.4" cy="434.9" r="2.4" fill="#ff0000"/>
<circle cx="136.1" cy="437.3" r="2.4" fill="#ff0000"/>
<circle cx="121.1" cy="436.8" r="2.4" fill="#ff0000"/>
<circle cx="125.9" cy="438.2" r="2.4" fill="#ff0000"/>
<circle cx="104.7" cy="441.3" r="2.4" fill="#ff0000"/>
<circle cx="108.7" cy="441.1" r="2.4" fill="#ff0000"/>
<circle cx="114.7" cy="442.8" r="2.4" fill="#ff0000"/>
<circle cx="117.3" cy="443.9" r="2.4" fill="#ff0000"/>
<circle cx="121.1" cy="441.1" r="2.4" fill="#ff0000"/>
<circle cx="128.7" cy="441.6" r="2.4" fill="#ff0000"/>
<circle cx="135.4" cy="443.5" r="2.4" fill="#ff0000"/>
<circle cx="142.6" cy="442.1" r="2.4" fill="#ff0000"/>
<circle cx="147.6" cy="441.3" r="2.4" fill="#ff0000"/>
<circle cx="148.7" cy="434.9" r="2.4" fill="#ff0000"/>
<circle cx="105.4" cy="444.2" r="2.4" fill="#ff0000"/>
<circle cx="126.9" cy="444.9" r="2.4" fill="#ff0000"/>
<circle cx="136.9" cy="447.1" r="2.4" fill="#ff0000"/>
<circle cx="143.0" cy="445.6" r="2.4" fill="#ff0000"/>
<circle cx="146.1" cy="445.6" r="2.4" fill="#ff0000"/>
<circle cx="127.6" cy="449.2" r="2.4" fill="#ff0000"/>
<circle cx="132.1" cy="449.6" r="2.4" fill="#ff0000"/>
<circle cx="141.9" cy="447.8" r="2.4" fill="#ff0000"/>
<circle cx="145.4" cy="450.6" r="2.4" fill="#ff0000"/>
<circle cx="142.6" cy="451.3" r="2.4" fill="#ff0000"/>
<circle cx="106.9" cy="451.1" r="2.4" fill="#ff0000"/>
<circle cx="123.3" cy="452.5" r="2.4" fill="#ff0000"/>
<circle cx="126.9" cy="453.5" r="2.4" fill="#ff0000"/>
<circle cx="130.4" cy="453.5" r="2.4" fill="#ff0000"/>
<circle cx="100.4" cy="453.9" r="2.4" fill="#ff0000"/>
<circle cx="151.9" cy="405.3" r="2.4" fill="#ff0000"/>
<circle cx="156.1" cy="404.9" r="2.4" fill="#ff0000"/>
<circle cx="150.4" cy="408.5" r="2.4" fill="#ff0000"/>
<circle cx="153.3" cy="409.2" r="2.4" fill="#ff0000"/>
<circle cx="156.1" cy="408.5" r="2.4" fill="#ff0000"/>
<circle cx="158.7" cy="408.5" r="2.4" fill="#ff0000"/>
<circle cx="158.3" cy="411.1" r="2.4" fill="#ff0000"/>
<circle cx="163.3" cy="407.1" r="2.4" fill="#ff0000"/>
<circle cx="164.0" cy="410.6" r="2.4" fill="#ff0000"/>
<circle cx="168.3" cy="405.6" r="2.4" fill="#ff0000"/>
<circle cx="172.6" cy="405.3" r="2.4" fill="#ff0000"/>
<circle cx="170.4" cy="408.5" r="2.4" fill="#ff0000"/>
<circle cx="183.3" cy="405.6" r="2.4" fill="#ff0000"/>
<circle cx="181.9" cy="410.2" r="2.4" fill="#ff0000"/>
<circle cx="190.4" cy="407.8" r="2.4" fill="#ff0000"/>
<circle cx="194.4" cy="404.9" r="2.4" fill="#ff0000"/>
<circle cx="149.7" cy="414.2" r="2.4" fill="#ff0000"/>
<circle cx="153.3" cy="413.5" r="2.4" fill="#ff0000"/>
<circle cx="162.6" cy="413.5" r="2.4" fill="#ff0000"/>
<circle cx="160.4" cy="413.5" r="2.4" fill="#ff0000"/>
<circle cx="151.9" cy="417.1" r="2.4" fill="#ff0000"/>
<circle cx="154.0" cy="417.1" r="2.4" fill="#ff0000"/>
<circle cx="154.7" cy="421.1" r="2.4" fill="#ff0000"/>
<circle cx="158.3" cy="421.6" r="2.4" fill="#ff0000"/>
<circle cx="159.7" cy="419.2" r="2.4" fill="#ff0000"/>
<circle cx="166.9" cy="415.6" r="2.4" fill="#ff0000"/>
<circle cx="171.1" cy="415.6" r="2.4" fill="#ff0000"/>
<circle cx="181.1" cy="413.9" r="2.4" fill="#ff0000"/>
<circle cx="179.0" cy="417.1" r="2.4" fill="#ff0000"/>
<circle cx="191.1" cy="412.5" r="2.4" fill="#ff0000"/>
<circle cx="186.9" cy="414.9" r="2.4" fill="#ff0000"/>
<circle cx="190.4" cy="415.6" r="2.4" fill="#ff0000"/>
<circle cx="193.3" cy="417.8" r="2.4" fill="#ff0000"/>
<circle cx="195.4" cy="417.8" r="2.4" fill="#ff0000"/>
<circle cx="197.6" cy="418.5" r="2.4" fill="#ff0000"/>
<circle cx="185.9" cy="418.8" r="2.4" fill="#ff0000"/>
<circle cx="179.0" cy="421.6" r="2.4" fill="#ff0000"/>
<circle cx="176.1" cy="422.8" r="2.4" fill="#ff0000"/>
<circle cx="164.7" cy="422.5" r="2.4" fill="#ff0000"/>
<circle cx="164.0" cy="424.9" r="2.4" fill="#ff0000"/>
<circle cx="169.7" cy="425.6" r="2.4" fill="#ff0000"/>
<circle cx="181.1" cy="426.8" r="2.4" fill="#ff0000"/>
<circle cx="183.3" cy="424.9" r="2.4" fill="#ff0000"/>
<circle cx="186.9" cy="425.6" r="2.4" fill="#ff0000"/>
<circle cx="189.0" cy="424.2" r="2.4" fill="#ff0000"/>
<circle cx="190.4" cy="425.3" r="2.4" fill="#ff0000"/>
<circle cx="194.7" cy="425.6" r="2.4" fill="#ff0000"/>
<circle cx="187.6" cy="422.8" r="2.4" fill="#ff0000"/>
<circle cx="198.3" cy="426.3" r="2.4" fill="#ff0000"/>
<circle cx="151.9" cy="427.8" r="2.4" fill="#ff0000"/>
<circle cx="152.6" cy="431.3" r="2.4" fill="#ff0000"/>
<circle cx="156.9" cy="430.6" r="2.4" fill="#ff0000"/>
<circle cx="172.6" cy="430.6" r="2.4" fill="#ff0000"/>
<circle cx="184.7" cy="429.2" r="2.4" fill="#ff0000"/>
<circle cx="187.6" cy="429.2" r="2.4" fill="#ff0000"/>
<circle cx="191.9" cy="428.5" r="2.4" fill="#ff0000"/>
<circle cx="196.9" cy="429.2" r="2.4" fill="#ff0000"/>
<circle cx="150.1" cy="434.9" r="2.4" fill="#ff0000"/>
<circle cx="168.3" cy="433.5" r="2.4" fill="#ff0000"/>
<circle cx="162.6" cy="435.6" r="2.4" fill="#ff0000"/>
<circle cx="171.9" cy="437.1" r="2.4" fill="#ff0000"/>
<circle cx="186.9" cy="432.8" r="2.4" fill="#ff0000"/>
<circle cx="189.7" cy="432.1" r="2.4" fill="#ff0000"/>
<circle cx="154.0" cy="441.6" r="2.4" fill="#ff0000"/>
<circle cx="170.4" cy="441.6" r="2.4" fill="#ff0000"/>
<circle cx="184.0" cy="441.1" r="2.4" fill="#ff0000"/>
<circle cx="192.6" cy="439.9" r="2.4" fill="#ff0000"/>
<circle cx="150.4" cy="445.6" r="2.4" fill="#ff0000"/>
<circle cx="171.1" cy="445.3" r="2.4" fill="#ff0000"/>
<circle cx="181.9" cy="445.6" r="2.4" fill="#ff0000"/>
<circle cx="156.9" cy="449.2" r="2.4" fill="#ff0000"/>
<circle cx="159.7" cy="447.8" r="2.4" fill="#ff0000"/>
<circle cx="151.9" cy="452.1" r="2.4" fill="#ff0000"/>
<circle cx="174.7" cy="450.6" r="2.4" fill="#ff0000"/>
<circle cx="185.4" cy="449.2" r="2.4" fill="#ff0000"/>
<circle cx="183.6" cy="445.9" r="2.4" fill="#ff0000"/>
<circle cx="182.6" cy="452.1" r="2.4" fill="#ff0000"/>
<circle cx="188.3" cy="452.1" r="2.4" fill="#ff0000"/>
<circle cx="194.7" cy="449.9" r="2.4" fill="#ff0000"/>
<circle cx="198.3" cy="451.3" r="2.4" fill="#ff0000"/>
<circle cx="214.0" cy="405.6" r="2.4" fill="#ff0000"/>
<circle cx="219.0" cy="404.9" r="2.4" fill="#ff0000"/>
<circle cx="225.4" cy="404.6" r="2.4" fill="#ff0000"/>
<circle cx="233.6" cy="407.1" r="2.4" fill="#ff0000"/>
<circle cx="223.0" cy="410.2" r="2.4" fill="#ff0000"/>
<circle cx="244.7" cy="404.6" r="2.4" fill="#ff0000"/>
<circle cx="245.0" cy="411.3" r="2.4" fill="#ff0000"/>
<circle cx="238.7" cy="412.1" r="2.4" fill="#ff0000"/>
<circle cx="248.3" cy="412.8" r="2.4" fill="#ff0000"/>
<circle cx="201.9" cy="414.9" r="2.4" fill="#ff0000"/>
<circle cx="205.4" cy="414.9" r="2.4" fill="#ff0000"/>
<circle cx="200.4" cy="418.5" r="2.4" fill="#ff0000"/>
<circle cx="214.7" cy="417.3" r="2.4" fill="#ff0000"/>
<circle cx="211.9" cy="418.5" r="2.4" fill="#ff0000"/>
<circle cx="216.9" cy="415.6" r="2.4" fill="#ff0000"/>
<circle cx="221.9" cy="416.8" r="2.4" fill="#ff0000"/>
<circle cx="226.1" cy="415.6" r="2.4" fill="#ff0000"/>
<circle cx="229.0" cy="414.9" r="2.4" fill="#ff0000"/>
<circle cx="233.3" cy="416.3" r="2.4" fill="#ff0000"/>
<circle cx="239.7" cy="415.6" r="2.4" fill="#ff0000"/>
<circle cx="243.3" cy="418.5" r="2.4" fill="#ff0000"/>
<circle cx="204.7" cy="421.1" r="2.4" fill="#ff0000"/>
<circle cx="208.7" cy="421.6" r="2.4" fill="#ff0000"/>
<circle cx="200.4" cy="424.2" r="2.4" fill="#ff0000"/>
<circle cx="216.1" cy="422.5" r="2.4" fill="#ff0000"/>
<circle cx="214.0" cy="423.1" r="2.4" fill="#ff0000"/>
<circle cx="221.1" cy="421.3" r="2.4" fill="#ff0000"/>
<circle cx="223.3" cy="424.2" r="2.4" fill="#ff0000"/>
<circle cx="226.9" cy="423.9" r="2.4" fill="#ff0000"/>
<circle cx="231.1" cy="419.9" r="2.4" fill="#ff0000"/>
<circle cx="208.3" cy="426.3" r="2.4" fill="#ff0000"/>
<circle cx="204.7" cy="427.8" r="2.4" fill="#ff0000"/>
<circle cx="209.0" cy="429.9" r="2.4" fill="#ff0000"/>
<circle cx="220.4" cy="426.3" r="2.4" fill="#ff0000"/>
<circle cx="216.9" cy="429.9" r="2.4" fill="#ff0000"/>
<circle cx="237.6" cy="430.6" r="2.4" fill="#ff0000"/>
<circle cx="200.4" cy="429.9" r="2.4" fill="#ff0000"/>
<circle cx="210.4" cy="434.2" r="2.4" fill="#ff0000"/>
<circle cx="224.0" cy="435.9" r="2.4" fill="#ff0000"/>
<circle cx="240.1" cy="433.5" r="2.4" fill="#ff0000"/>
<circle cx="216.9" cy="445.6" r="2.4" fill="#ff0000"/>
<circle cx="200.4" cy="449.9" r="2.4" fill="#ff0000"/>
<circle cx="219.0" cy="449.9" r="2.4" fill="#ff0000"/>
<circle cx="222.6" cy="449.9" r="2.4" fill="#ff0000"/>
<circle cx="226.9" cy="449.2" r="2.4" fill="#ff0000"/>
<circle cx="204.0" cy="451.3" r="2.4" fill="#ff0000"/>
<circle cx="214.7" cy="452.1" r="2.4" fill="#ff0000"/>
<circle cx="229.0" cy="452.8" r="2.4" fill="#ff0000"/>
<circle cx="250.0" cy="417.8" r="2.4" fill="#ff0000"/>
<circle cx="247.4" cy="414.5" r="2.4" fill="#ff0000"/>
<circle cx="97.6" cy="470.6" r="2.4" fill="#ff0000"/>
<circle cx="55.4" cy="483.1" r="2.4" fill="#ff0000"/>
<circle cx="108.7" cy="455.9" r="2.4" fill="#ff0000"/>
<circle cx="113.3" cy="455.9" r="2.4" fill="#ff0000"/>
<circle cx="111.1" cy="468.2" r="2.4" fill="#ff0000"/>
<circle cx="115.9" cy="471.1" r="2.4" fill="#ff0000"/>
<circle cx="110.4" cy="474.9" r="2.4" fill="#ff0000"/>
<circle cx="119.7" cy="467.1" r="2.4" fill="#ff0000"/>
<circle cx="129.0" cy="460.2" r="2.4" fill="#ff0000"/>
<circle cx="132.1" cy="459.6" r="2.4" fill="#ff0000"/>
<circle cx="134.0" cy="463.1" r="2.4" fill="#ff0000"/>
<circle cx="131.9" cy="467.8" r="2.4" fill="#ff0000"/>
<circle cx="142.6" cy="456.8" r="2.4" fill="#ff0000"/>
<circle cx="140.4" cy="464.2" r="2.4" fill="#ff0000"/>
<circle cx="139.0" cy="467.8" r="2.4" fill="#ff0000"/>
<circle cx="148.3" cy="460.6" r="2.4" fill="#ff0000"/>
<circle cx="133.3" cy="475.6" r="2.4" fill="#ff0000"/>
<circle cx="126.9" cy="481.1" r="2.4" fill="#ff0000"/>
<circle cx="134.7" cy="479.6" r="2.4" fill="#ff0000"/>
<circle cx="140.7" cy="477.3" r="2.4" fill="#ff0000"/>
<circle cx="141.9" cy="474.9" r="2.4" fill="#ff0000"/>
<circle cx="145.4" cy="479.2" r="2.4" fill="#ff0000"/>
<circle cx="135.0" cy="485.6" r="2.4" fill="#ff0000"/>
<circle cx="141.9" cy="492.8" r="2.4" fill="#ff0000"/>
<circle cx="150.4" cy="455.6" r="2.4" fill="#ff0000"/>
<circle cx="153.3" cy="456.8" r="2.4" fill="#ff0000"/>
<circle cx="159.0" cy="457.1" r="2.4" fill="#ff0000"/>
<circle cx="157.6" cy="458.5" r="2.4" fill="#ff0000"/>
<circle cx="162.6" cy="457.8" r="2.4" fill="#ff0000"/>
<circle cx="167.6" cy="454.9" r="2.4" fill="#ff0000"/>
<circle cx="181.9" cy="455.6" r="2.4" fill="#ff0000"/>
<circle cx="182.1" cy="460.2" r="2.4" fill="#ff0000"/>
<circle cx="156.9" cy="465.6" r="2.4" fill="#ff0000"/>
<circle cx="171.6" cy="467.8" r="2.4" fill="#ff0000"/>
<circle cx="196.1" cy="467.8" r="2.4" fill="#ff0000"/>
<circle cx="159.7" cy="473.1" r="2.4" fill="#ff0000"/>
<circle cx="163.3" cy="472.1" r="2.4" fill="#ff0000"/>
<circle cx="194.7" cy="470.6" r="2.4" fill="#ff0000"/>
<circle cx="149.7" cy="484.9" r="2.4" fill="#ff0000"/>
<circle cx="228.7" cy="454.5" r="2.4" fill="#ff0000"/>
<circle cx="228.6" cy="428.9" r="2.4" fill="#ff0000"/>
<circle cx="221.9" cy="432.8" r="2.4" fill="#ff0000"/>
<circle cx="206.9" cy="463.9" r="2.4" fill="#ff2700"/>
<circle cx="221.1" cy="467.1" r="2.4" fill="#ff2700"/>
<circle cx="215.1" cy="436.5" r="2.4" fill="#ff3e00"/>
<circle cx="237.4" cy="418.5" r="2.4" fill="#ff3e00"/>
<circle cx="193.7" cy="430.9" r="2.4" fill="#ff3e00"/>
<circle cx="207.4" cy="435.6" r="2.4" fill="#ff3e00"/>
<circle cx="198.0" cy="455.2" r="2.4" fill="#ff3e00"/>
<circle cx="196.0" cy="463.2" r="2.4" fill="#ff3e00"/>
<circle cx="128.6" cy="387.8" r="2.4" fill="#ff3e00"/>
<circle cx="128.7" cy="390.3" r="2.4" fill="#ff3e00"/>
<circle cx="179.4" cy="381.3" r="2.4" fill="#ff3e00"/>
<circle cx="154.7" cy="370.6" r="2.4" fill="#ff3e00"/>
<circle cx="153.0" cy="372.8" r="2.4" fill="#ff3e00"/>
<circle cx="184.4" cy="370.6" r="2.4" fill="#ff3e00"/>
<circle cx="176.1" cy="381.3" r="2.4" fill="#ff3e00"/>
<circle cx="192.6" cy="443.5" r="2.4" fill="#ff3e00"/>
<circle cx="191.9" cy="449.9" r="2.4" fill="#ff3e00"/>
<circle cx="204.7" cy="405.3" r="2.4" fill="#ff3e00"/>
<circle cx="206.1" cy="407.8" r="2.4" fill="#ff3e00"/>
<circle cx="236.9" cy="421.3" r="2.4" fill="#ff3e00"/>
<circle cx="240.4" cy="422.1" r="2.4" fill="#ff3e00"/>
<circle cx="213.3" cy="424.9" r="2.4" fill="#ff3e00"/>
<circle cx="214.7" cy="427.8" r="2.4" fill="#ff3e00"/>
<circle cx="233.3" cy="427.1" r="2.4" fill="#ff3e00"/>
<circle cx="241.1" cy="425.3" r="2.4" fill="#ff3e00"/>
<circle cx="214.7" cy="433.5" r="2.4" fill="#ff3e00"/>
<circle cx="219.0" cy="434.2" r="2.4" fill="#ff3e00"/>
<circle cx="225.4" cy="432.8" r="2.4" fill="#ff3e00"/>
<circle cx="205.4" cy="438.5" r="2.4" fill="#ff3e00"/>
<circle cx="220.4" cy="445.6" r="2.4" fill="#ff3e00"/>
<circle cx="146.9" cy="456.3" r="2.4" fill="#ff3e00"/>
<circle cx="145.4" cy="463.5" r="2.4" fill="#ff3e00"/>
<circle cx="143.3" cy="467.8" r="2.4" fill="#ff3e00"/>
<circle cx="147.3" cy="467.8" r="2.4" fill="#ff3e00"/>
<circle cx="142.6" cy="485.3" r="2.4" fill="#ff3e00"/>
<circle cx="148.3" cy="484.9" r="2.4" fill="#ff3e00"/>
<circle cx="176.9" cy="457.8" r="2.4" fill="#ff3e00"/>
<circle cx="150.4" cy="464.2" r="2.4" fill="#ff3e00"/>
<circle cx="175.4" cy="464.5" r="2.4" fill="#ff3e00"/>
<circle cx="179.0" cy="464.2" r="2.4" fill="#ff3e00"/>
<circle cx="181.1" cy="467.8" r="2.4" fill="#ff3e00"/>
<circle cx="191.6" cy="467.8" r="2.4" fill="#ff3e00"/>
<circle cx="176.9" cy="472.1" r="2.4" fill="#ff3e00"/>
<circle cx="185.9" cy="473.1" r="2.4" fill="#ff3e00"/>
<circle cx="150.1" cy="477.1" r="2.4" fill="#ff3e00"/>
<circle cx="172.1" cy="479.2" r="2.4" fill="#ff3e00"/>
<circle cx="158.3" cy="479.2" r="2.4" fill="#ff3e00"/>
<circle cx="187.9" cy="480.3" r="2.4" fill="#ff3e00"/>
<circle cx="169.7" cy="482.8" r="2.4" fill="#ff3e00"/>
<circle cx="157.6" cy="491.1" r="2.4" fill="#ff3e00"/>
<circle cx="201.1" cy="457.3" r="2.4" fill="#ff3e00"/>
<circle cx="231.1" cy="430.6" r="2.4" fill="#ff3e00"/>
<circle cx="237.4" cy="424.5" r="2.4" fill="#ff7400"/>
<circle cx="196.3" cy="432.2" r="2.4" fill="#ff7400"/>
<circle cx="190.0" cy="453.2" r="2.4" fill="#ff7400"/>
<circle cx="190.0" cy="458.2" r="2.4" fill="#ff7400"/>
<circle cx="200.0" cy="461.2" r="2.4" fill="#ff7400"/>
<circle cx="186.0" cy="464.2" r="2.4" fill="#ff7400"/>
<circle cx="164.5" cy="469.7" r="2.4" fill="#ff7400"/>
<circle cx="168.0" cy="474.2" r="2.4" fill="#ff7400"/>
<circle cx="177.0" cy="469.2" r="2.4" fill="#ff7400"/>
<circle cx="129.0" cy="415.6" r="2.4" fill="#ff7400"/>
<circle cx="161.1" cy="428.5" r="2.4" fill="#ff7400"/>
<circle cx="197.3" cy="432.8" r="2.4" fill="#ff7400"/>
<circle cx="174.4" cy="442.1" r="2.4" fill="#ff7400"/>
<circle cx="178.3" cy="442.8" r="2.4" fill="#ff7400"/>
<circle cx="187.6" cy="436.8" r="2.4" fill="#ff7400"/>
<circle cx="187.6" cy="441.6" r="2.4" fill="#ff7400"/>
<circle cx="197.6" cy="435.3" r="2.4" fill="#ff7400"/>
<circle cx="177.3" cy="446.5" r="2.4" fill="#ff7400"/>
<circle cx="191.1" cy="446.3" r="2.4" fill="#ff7400"/>
<circle cx="196.1" cy="445.6" r="2.4" fill="#ff7400"/>
<circle cx="162.6" cy="450.6" r="2.4" fill="#ff7400"/>
<circle cx="179.7" cy="449.2" r="2.4" fill="#ff7400"/>
<circle cx="236.4" cy="427.1" r="2.4" fill="#ff7400"/>
<circle cx="199.7" cy="438.5" r="2.4" fill="#ff7400"/>
<circle cx="216.1" cy="437.8" r="2.4" fill="#ff7400"/>
<circle cx="220.4" cy="438.5" r="2.4" fill="#ff7400"/>
<circle cx="204.7" cy="441.6" r="2.4" fill="#ff7400"/>
<circle cx="207.6" cy="442.8" r="2.4" fill="#ff7400"/>
<circle cx="215.4" cy="441.6" r="2.4" fill="#ff7400"/>
<circle cx="219.7" cy="441.6" r="2.4" fill="#ff7400"/>
<circle cx="224.7" cy="445.6" r="2.4" fill="#ff7400"/>
<circle cx="212.6" cy="448.5" r="2.4" fill="#ff7400"/>
<circle cx="207.6" cy="453.5" r="2.4" fill="#ff7400"/>
<circle cx="148.3" cy="478.5" r="2.4" fill="#ff7400"/>
<circle cx="172.6" cy="458.5" r="2.4" fill="#ff7400"/>
<circle cx="188.7" cy="456.3" r="2.4" fill="#ff7400"/>
<circle cx="174.0" cy="462.1" r="2.4" fill="#ff7400"/>
<circle cx="190.4" cy="459.2" r="2.4" fill="#ff7400"/>
<circle cx="191.9" cy="462.8" r="2.4" fill="#ff7400"/>
<circle cx="197.3" cy="463.5" r="2.4" fill="#ff7400"/>
<circle cx="152.6" cy="464.9" r="2.4" fill="#ff7400"/>
<circle cx="163.3" cy="462.8" r="2.4" fill="#ff7400"/>
<circle cx="185.0" cy="467.3" r="2.4" fill="#ff7400"/>
<circle cx="164.7" cy="468.5" r="2.4" fill="#ff7400"/>
<circle cx="167.6" cy="470.6" r="2.4" fill="#ff7400"/>
<circle cx="170.4" cy="473.5" r="2.4" fill="#ff7400"/>
<circle cx="179.7" cy="472.1" r="2.4" fill="#ff7400"/>
<circle cx="183.3" cy="471.3" r="2.4" fill="#ff7400"/>
<circle cx="179.7" cy="476.3" r="2.4" fill="#ff7400"/>
<circle cx="183.3" cy="476.3" r="2.4" fill="#ff7400"/>
<circle cx="180.4" cy="479.9" r="2.4" fill="#ff7400"/>
<circle cx="157.6" cy="482.8" r="2.4" fill="#ff7400"/>
<circle cx="165.9" cy="497.3" r="2.4" fill="#ff7400"/>
<circle cx="208.3" cy="456.3" r="2.4" fill="#ff7400"/>
<circle cx="211.1" cy="457.1" r="2.4" fill="#ff7400"/>
<circle cx="210.4" cy="460.2" r="2.4" fill="#ff7400"/>
<circle cx="199.7" cy="462.1" r="2.4" fill="#ff7400"/>
<circle cx="197.1" cy="435.6" r="2.4" fill="#ff7400"/>
<circle cx="237.4" cy="435.6" r="2.4" fill="#fca300"/>
<circle cx="208.3" cy="440.8" r="2.4" fill="#fca300"/>
<circle cx="199.0" cy="445.2" r="2.4" fill="#fca300"/>
<circle cx="204.0" cy="445.2" r="2.4" fill="#fca300"/>
<circle cx="176.0" cy="476.2" r="2.4" fill="#fca300"/>
<circle cx="194.7" cy="432.8" r="2.4" fill="#fca300"/>
<circle cx="167.3" cy="438.5" r="2.4" fill="#fca300"/>
<circle cx="195.4" cy="439.2" r="2.4" fill="#fca300"/>
<circle cx="235.4" cy="432.8" r="2.4" fill="#fca300"/>
<circle cx="210.4" cy="438.5" r="2.4" fill="#fca300"/>
<circle cx="230.4" cy="438.5" r="2.4" fill="#fca300"/>
<circle cx="201.1" cy="441.6" r="2.4" fill="#fca300"/>
<circle cx="224.0" cy="441.6" r="2.4" fill="#fca300"/>
<circle cx="209.0" cy="444.9" r="2.4" fill="#fca300"/>
<circle cx="201.9" cy="445.6" r="2.4" fill="#fca300"/>
<circle cx="205.4" cy="448.5" r="2.4" fill="#fca300"/>
<circle cx="195.9" cy="459.6" r="2.4" fill="#fca300"/>
<circle cx="186.4" cy="459.9" r="2.4" fill="#fca300"/>
<circle cx="155.4" cy="472.1" r="2.4" fill="#fca300"/>
<circle cx="190.4" cy="474.2" r="2.4" fill="#fca300"/>
<circle cx="176.1" cy="475.6" r="2.4" fill="#fca300"/>
<circle cx="200.6" cy="441.2" r="2.4" fill="#fca300"/>
<circle cx="194.0" cy="456.2" r="2.4" fill="#e9dd00"/>
<circle cx="215.9" cy="395.3" r="2.4" fill="#e9dd00"/>
<circle cx="216.9" cy="397.8" r="2.4" fill="#e9dd00"/>
<circle cx="208.3" cy="409.9" r="2.4" fill="#e9dd00"/>
<circle cx="228.3" cy="435.9" r="2.4" fill="#e9dd00"/>
<circle cx="233.3" cy="434.9" r="2.4" fill="#e9dd00"/>
<circle cx="193.3" cy="455.6" r="2.4" fill="#e9dd00"/>
<circle cx="169.0" cy="464.9" r="2.4" fill="#e9dd00"/>
<circle cx="213.3" cy="455.6" r="2.4" fill="#e9dd00"/>
<circle cx="214.7" cy="454.6" r="2.4" fill="#e9dd00"/>
<circle cx="204.9" cy="431.3" r="2.4" fill="#bbf41b"/>
<circle cx="203.3" cy="434.5" r="2.4" fill="#bbf41b"/>
<circle cx="228.3" cy="440.6" r="2.4" fill="#bbf41b"/>
<circle cx="209.7" cy="450.6" r="2.4" fill="#bbf41b"/>
<circle cx="167.6" cy="476.3" r="2.4" fill="#bbf41b"/>
<circle cx="169.0" cy="479.2" r="2.4" fill="#bbf41b"/>
<circle cx="205.4" cy="457.1" r="2.4" fill="#bbf41b"/>
<circle cx="201.9" cy="459.2" r="2.4" fill="#bbf41b"/>
<circle cx="204.0" cy="460.6" r="2.4" fill="#bbf41b"/>
<line x1="48.10" y1="535.80" x2="285.20" y2="298.70" stroke="#000" stroke-width="2" stroke-dasharray="5 6.71" stroke-dashoffset="4.3"/>
<line x1="88.60" y1="535.80" x2="325.70" y2="298.70" stroke="#000" stroke-width="2" stroke-dasharray="5 6.71" stroke-dashoffset="-1.3"/>
</g>
<rect x="48.5" y="303.7" width="226.8" height="227.09999999999997" fill="none" stroke="#000" stroke-width="1"/>
<path d="M48.50 530.80v-6M48.50 303.70v6M58.58 530.80v-3.5M58.58 303.70v3.5M68.66 530.80v-3.5M68.66 303.70v3.5M78.74 530.80v-3.5M78.74 303.70v3.5M88.82 530.80v-3.5M88.82 303.70v3.5M98.90 530.80v-6M98.90 303.70v6M108.98 530.80v-3.5M108.98 303.70v3.5M119.06 530.80v-3.5M119.06 303.70v3.5M129.14 530.80v-3.5M129.14 303.70v3.5M139.22 530.80v-3.5M139.22 303.70v3.5M149.30 530.80v-6M149.30 303.70v6M159.38 530.80v-3.5M159.38 303.70v3.5M169.46 530.80v-3.5M169.46 303.70v3.5M179.54 530.80v-3.5M179.54 303.70v3.5M189.62 530.80v-3.5M189.62 303.70v3.5M199.70 530.80v-6M199.70 303.70v6M209.78 530.80v-3.5M209.78 303.70v3.5M219.86 530.80v-3.5M219.86 303.70v3.5M229.94 530.80v-3.5M229.94 303.70v3.5M240.02 530.80v-3.5M240.02 303.70v3.5M250.10 530.80v-6M250.10 303.70v6M260.18 530.80v-3.5M260.18 303.70v3.5M270.26 530.80v-3.5M270.26 303.70v3.5M48.50 525.75h3.5M275.30 525.75h-3.5M48.50 515.66h3.5M275.30 515.66h-3.5M48.50 505.57h6M275.30 505.57h-6M48.50 495.47h3.5M275.30 495.47h-3.5M48.50 485.38h3.5M275.30 485.38h-3.5M48.50 475.29h3.5M275.30 475.29h-3.5M48.50 465.19h3.5M275.30 465.19h-3.5M48.50 455.10h6M275.30 455.10h-6M48.50 445.01h3.5M275.30 445.01h-3.5M48.50 434.91h3.5M275.30 434.91h-3.5M48.50 424.82h3.5M275.30 424.82h-3.5M48.50 414.73h3.5M275.30 414.73h-3.5M48.50 404.63h6M275.30 404.63h-6M48.50 394.54h3.5M275.30 394.54h-3.5M48.50 384.45h3.5M275.30 384.45h-3.5M48.50 374.35h3.5M275.30 374.35h-3.5M48.50 364.26h3.5M275.30 364.26h-3.5M48.50 354.17h6M275.30 354.17h-6M48.50 344.07h3.5M275.30 344.07h-3.5M48.50 333.98h3.5M275.30 333.98h-3.5M48.50 323.89h3.5M275.30 323.89h-3.5M48.50 313.79h3.5M275.30 313.79h-3.5M48.50 303.70h6M275.30 303.70h-6" stroke="#000" stroke-width="1" fill="none"/>
<text transform="translate(42.60,308.90) scale(1.12,1)" font-family="Liberation Sans, sans-serif" stroke="#000" stroke-width="0.3" font-size="14" text-anchor="end" >2</text>
<text transform="translate(42.60,359.37) scale(1.12,1)" font-family="Liberation Sans, sans-serif" stroke="#000" stroke-width="0.3" font-size="14" text-anchor="end" >1</text>
<text transform="translate(42.60,409.83) scale(1.12,1)" font-family="Liberation Sans, sans-serif" stroke="#000" stroke-width="0.3" font-size="14" text-anchor="end" >0</text>
<text transform="translate(42.60,460.30) scale(1.12,1)" font-family="Liberation Sans, sans-serif" stroke="#000" stroke-width="0.3" font-size="14" text-anchor="end" >-1</text>
<text transform="translate(42.60,510.77) scale(1.12,1)" font-family="Liberation Sans, sans-serif" stroke="#000" stroke-width="0.3" font-size="14" text-anchor="end" >-2</text>
<text transform="translate(50.50,548.60) scale(1.02,1)" font-family="Liberation Sans, sans-serif" stroke="#000" stroke-width="0.3" font-size="15.5" text-anchor="middle" >8</text>
<text transform="translate(100.90,548.60) scale(1.02,1)" font-family="Liberation Sans, sans-serif" stroke="#000" stroke-width="0.3" font-size="15.5" text-anchor="middle" >9</text>
<text transform="translate(151.30,548.60) scale(1.02,1)" font-family="Liberation Sans, sans-serif" stroke="#000" stroke-width="0.3" font-size="15.5" text-anchor="middle" >10</text>
<text transform="translate(201.70,548.60) scale(1.02,1)" font-family="Liberation Sans, sans-serif" stroke="#000" stroke-width="0.3" font-size="15.5" text-anchor="middle" >11</text>
<text transform="translate(252.10,548.60) scale(1.02,1)" font-family="Liberation Sans, sans-serif" stroke="#000" stroke-width="0.3" font-size="15.5" text-anchor="middle" >12</text>
<text transform="translate(120.90,574.00) scale(1.04,1)" font-family="Liberation Sans, sans-serif" stroke="#000" stroke-width="0.3" font-size="14" text-anchor="start" >M</text>
<line x1="136.10" y1="568.20" x2="136.10" y2="574.20" stroke="#000" stroke-width="1.0"/>
<line x1="133.50" y1="569.70" x2="138.70" y2="572.70" stroke="#000" stroke-width="1.0"/>
<line x1="138.70" y1="569.70" x2="133.50" y2="572.70" stroke="#000" stroke-width="1.0"/>
<text transform="translate(143.30,574.00) scale(1.1,1)" font-family="Liberation Sans, sans-serif" stroke="#000" stroke-width="0.3" font-size="14" text-anchor="start" >(log</text>
<text transform="translate(175.60,574.00) scale(1.08,1)" font-family="Liberation Sans, sans-serif" stroke="#000" stroke-width="0.3" font-size="14" text-anchor="start" >M</text>
<circle cx="192.40" cy="572.80" r="4.0" fill="none" stroke="#000" stroke-width="0.9"/>
<circle cx="192.40" cy="572.80" r="0.9" fill="#000"/>
<text transform="translate(198.20,574.00) scale(1.1,1)" font-family="Liberation Sans, sans-serif" stroke="#000" stroke-width="0.3" font-size="14" text-anchor="start" >)</text>
<g transform="translate(13.8,477.90) rotate(-90)">
<text transform="translate(0.00,0.00) scale(1.08,1)" font-family="Liberation Sans, sans-serif" stroke="#000" stroke-width="0.3" font-size="14" text-anchor="start" >SFR</text>
<text transform="translate(33.00,0.00) scale(1.1,1)" font-family="Liberation Sans, sans-serif" stroke="#000" stroke-width="0.3" font-size="14" text-anchor="start" >(log</text>
<text transform="translate(64.00,0.00) scale(1.08,1)" font-family="Liberation Sans, sans-serif" stroke="#000" stroke-width="0.3" font-size="14" text-anchor="start" >M</text>
<circle cx="80.50" cy="-1.00" r="4.0" fill="none" stroke="#000" stroke-width="0.9"/>
<circle cx="80.50" cy="-1.00" r="0.9" fill="#000"/>
<text transform="translate(90.80,0.00) scale(1.1,1)" font-family="Liberation Sans, sans-serif" stroke="#000" stroke-width="0.3" font-size="14" text-anchor="start" >yr</text>
<text transform="translate(106.00,-6.00) scale(1.1,1)" font-family="Liberation Sans, sans-serif" stroke="#000" stroke-width="0.3" font-size="10" text-anchor="start" >-1</text>
<text transform="translate(116.80,0.00) scale(1.1,1)" font-family="Liberation Sans, sans-serif" stroke="#000" stroke-width="0.3" font-size="14" text-anchor="start" >)</text>
</g>
<linearGradient id="g1_0" x1="0" y1="0" x2="0" y2="1"><stop offset="0" stop-color="#0a0aff"/><stop offset="1" stop-color="#4e9c98"/></linearGradient>
<rect x="280.9" y="303.70" width="11.800000000000011" height="45.42" fill="url(#g1_0)"/>
<linearGradient id="g1_1" x1="0" y1="0" x2="0" y2="1"><stop offset="0" stop-color="#4e9c98"/><stop offset="1" stop-color="#a0f82d"/></linearGradient>
<rect x="280.9" y="349.12" width="11.800000000000011" height="45.42" fill="url(#g1_1)"/>
<linearGradient id="g1_2" x1="0" y1="0" x2="0" y2="1"><stop offset="0" stop-color="#a0f82d"/><stop offset="1" stop-color="#e4ee00"/></linearGradient>
<rect x="280.9" y="394.54" width="11.800000000000011" height="45.42" fill="url(#g1_2)"/>
<linearGradient id="g1_3" x1="0" y1="0" x2="0" y2="1"><stop offset="0" stop-color="#e4ee00"/><stop offset="1" stop-color="#ff9b00"/></linearGradient>
<rect x="280.9" y="439.96" width="11.800000000000011" height="45.42" fill="url(#g1_3)"/>
<linearGradient id="g1_4" x1="0" y1="0" x2="0" y2="1"><stop offset="0" stop-color="#ff9b00"/><stop offset="1" stop-color="#ff0000"/></linearGradient>
<rect x="280.9" y="485.38" width="11.800000000000011" height="45.42" fill="url(#g1_4)"/>
<line x1="280.9" y1="349.12" x2="292.7" y2="349.12" stroke="#000" stroke-width="1"/>
<line x1="280.9" y1="394.54" x2="292.7" y2="394.54" stroke="#000" stroke-width="1"/>
<line x1="280.9" y1="439.96" x2="292.7" y2="439.96" stroke="#000" stroke-width="1"/>
<line x1="280.9" y1="485.38" x2="292.7" y2="485.38" stroke="#000" stroke-width="1"/>
<rect x="280.9" y="303.70" width="11.800000000000011" height="227.10" fill="none" stroke="#000" stroke-width="1"/>
<text transform="translate(306.50,309.40) scale(1.05,1)" font-family="Liberation Sans, sans-serif" stroke="#000" stroke-width="0.3" font-size="15" text-anchor="start" >1</text>
<text transform="translate(306.50,354.82) scale(1.05,1)" font-family="Liberation Sans, sans-serif" stroke="#000" stroke-width="0.3" font-size="15" text-anchor="start" >0.8</text>
<text transform="translate(306.50,400.24) scale(1.05,1)" font-family="Liberation Sans, sans-serif" stroke="#000" stroke-width="0.3" font-size="15" text-anchor="start" >0.6</text>
<text transform="translate(306.50,445.66) scale(1.05,1)" font-family="Liberation Sans, sans-serif" stroke="#000" stroke-width="0.3" font-size="15" text-anchor="start" >0.4</text>
<text transform="translate(306.50,491.08) scale(1.05,1)" font-family="Liberation Sans, sans-serif" stroke="#000" stroke-width="0.3" font-size="15" text-anchor="start" >0.2</text>
<text transform="translate(306.50,536.50) scale(1.05,1)" font-family="Liberation Sans, sans-serif" stroke="#000" stroke-width="0.3" font-size="15" text-anchor="start" >0</text>
<g transform="translate(348.5,417.30) rotate(-90)">
<text x="0" y="0" font-family="Liberation Sans, sans-serif" stroke="#000" stroke-width="0.3" font-size="14" text-anchor="middle" textLength="181.8" lengthAdjust="spacingAndGlyphs">LI(N)ER fraction (&lt;1.5Re)</text>
</g>
</svg></body></html>
